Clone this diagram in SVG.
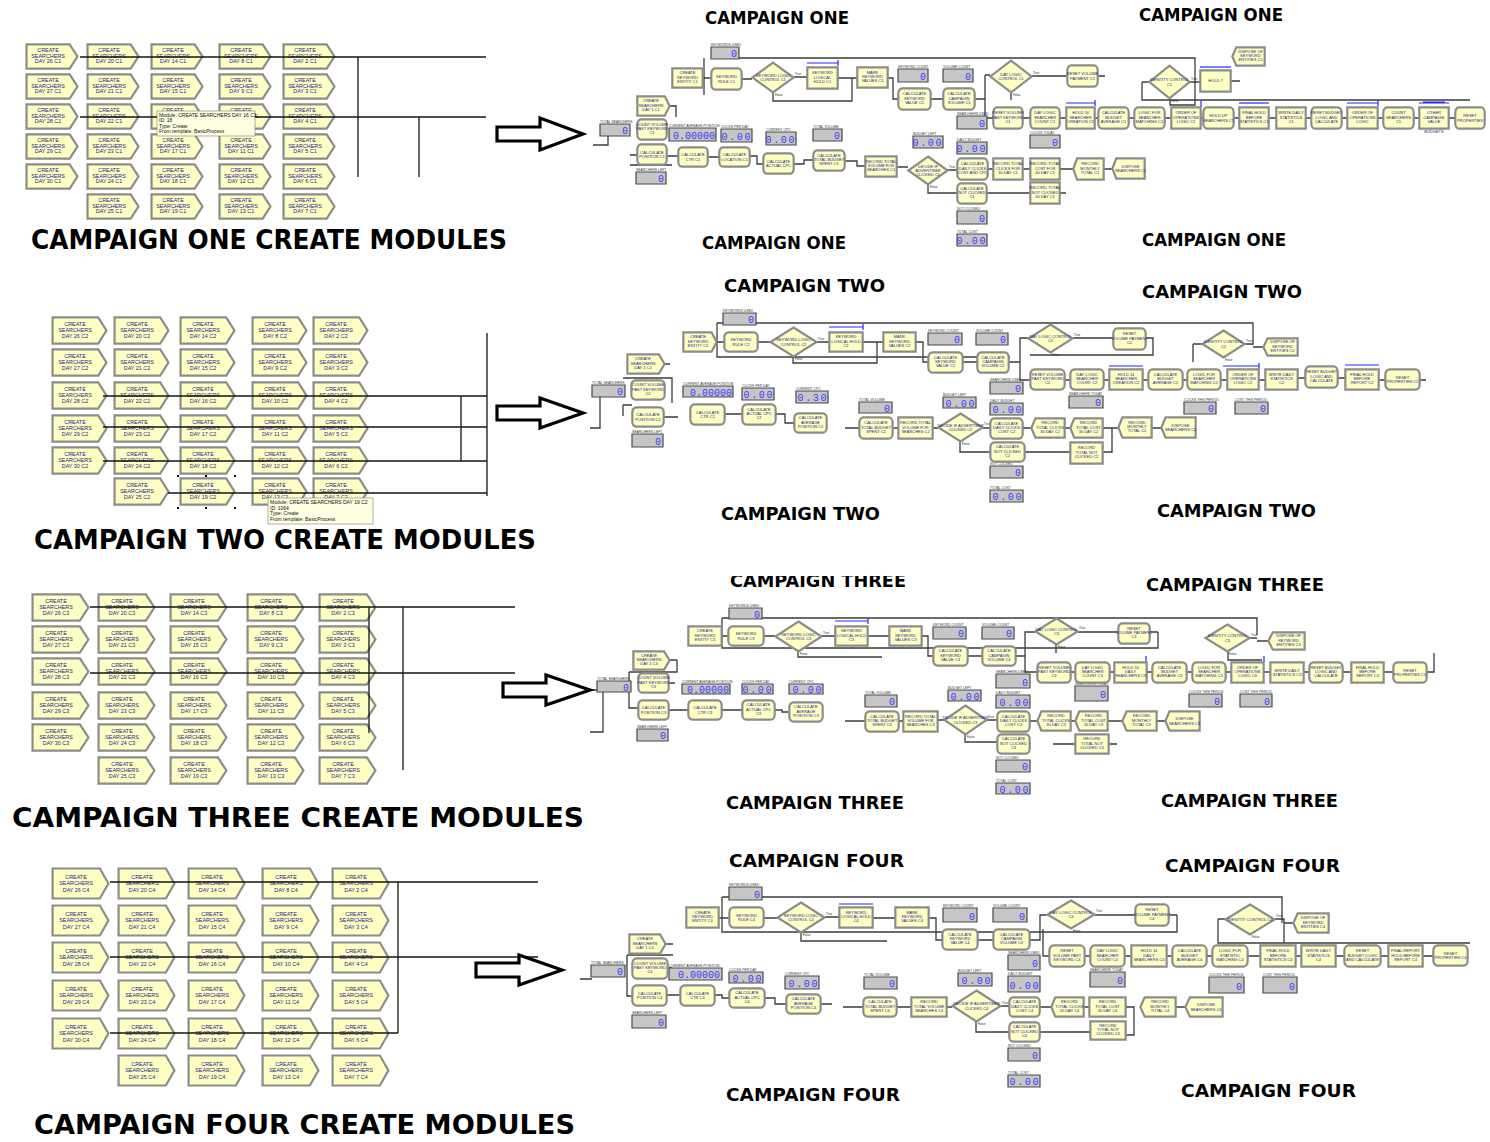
<svg xmlns="http://www.w3.org/2000/svg" width="1490" height="1142" viewBox="0 0 1490 1142">
<defs>
<style>
.bx{fill:#ffffc4;stroke:#8c8c8c;stroke-width:2.2;vector-effect:non-scaling-stroke}
.bn{fill:#c6c6c6;stroke:#4a4a4a;stroke-width:1.2;vector-effect:non-scaling-stroke}
.t{font-family:"Liberation Sans",Arial,sans-serif;font-size:4px;fill:#22228c;text-anchor:middle}
.ct{font-family:"Liberation Sans",Arial,sans-serif;font-size:5.4px;fill:#22228c;text-anchor:middle}
.lb{font-family:"Liberation Sans",Arial,sans-serif;font-size:3.4px;fill:#333}
.v{font-family:"Liberation Mono","Courier New",monospace;font-size:10px;fill:#3c3cff;text-anchor:end}
.vs{letter-spacing:1.6px}
.tf{font-family:"Liberation Sans",Arial,sans-serif;font-size:3px;fill:#222}
.hd{font-family:"DejaVu Sans",Verdana,sans-serif;font-weight:bold;fill:#000}
.cn{fill:none;stroke:#3c3c3c;stroke-width:1.3}
.gl{fill:none;stroke:#151515;stroke-width:1.3}
.q{fill:none;stroke:#2626ff;stroke-width:1.2}
.arw{fill:#fff;stroke:#000;stroke-width:3.2;stroke-linejoin:miter}
.tip{fill:#ffffe1;stroke:#7a7a7a;stroke-width:0.6}
.tt{font-family:"Liberation Sans",Arial,sans-serif;font-size:5px;fill:#111}
.hdl{fill:#111}
</style>
<symbol id="sC" viewBox="0 0 100 60" preserveAspectRatio="none" overflow="visible"><path class="bx" d="M1,1H84L99,30L84,59H1Z"/></symbol>
<symbol id="sP" viewBox="0 0 100 60" preserveAspectRatio="none" overflow="visible"><rect class="bx" x="1" y="1" width="98" height="58" rx="12" ry="14"/></symbol>
<symbol id="sA" viewBox="0 0 100 60" preserveAspectRatio="none" overflow="visible"><rect class="bx" x="1" y="1" width="98" height="58"/></symbol>
<symbol id="sR" viewBox="0 0 100 60" preserveAspectRatio="none" overflow="visible"><path class="bx" d="M13,1H99V59H13L1,30Z"/></symbol>
<symbol id="sD" viewBox="0 0 100 60" preserveAspectRatio="none" overflow="visible"><path class="bx" d="M50,1L99,30L50,59L1,30Z"/></symbol>
<symbol id="sN" viewBox="0 0 100 60" preserveAspectRatio="none" overflow="visible"><rect class="bn" x="0" y="0" width="100" height="60"/></symbol>
<clipPath id="clipTop3"><rect x="700" y="576" width="240" height="30"/></clipPath>
</defs>
<rect width="1490" height="1142" fill="#fff"/>

<!-- flowchart connectors -->
<g id="flow-connectors" class="cn">
<path d="M593,145H608V136 M630,155H637 M630,165H672 M667,156H678 M676,105V117 M670,106H676 M704,58V95 M703,78H711 M739,58H1195V105H1170V99 M742,79H752 M794,77H807 M838,78H857 M852,78V101H773V93 M888,78H893V99H898 M931,99H943 M975,99H985 M985,75V118H993 M985,75H990 M1032,76H1067 M1098,76H1105 M1011,93V100 M1142,82H1149 M1142,82V100H1470 M1190,82H1200 M1231,81H1240 M1023,118H1030 M1060,118H1066 M1095,118H1098 M1129,118H1134 M1165,118H1171 M1201,118H1203 M1234,118H1239 M1269,118H1276 M1306,118H1311 M1342,118H1347 M1378,118H1383 M1414,118H1419 M1449,118H1455 M708,157H719 M750,156H757V164H763 M794,164H804V160H813 M845,161H857V166H865 M897,167H908 M948,170H957 M988,169H993 M1023,169H1030 M1060,169H1073 M1104,169H1112 M928,185V193H957 M987,193H1030 M1060,193H1066"/>
<path d="M590,428H600V397 M623,378H672V403 M623,405V416 M623,405H632 M665,364H670 M664,417H678 M725,414H742 M776,414H785V423H794 M717,323H1253V345 M717,323V357H1010 M717,342H724 M758,342H770 M817,342H829 M863,342H877V363H793V357 M877,342H883 M916,342H923V362H928 M963,362H977 M1009,362H1020V338H1028 M1020,362V380H1030 M1073,338H1113 M1146,338H1153V355H1030 M1193,344H1202 M1193,344V362 M1245,344H1253 M1253,347H1263 M1065,380H1070 M1104,380H1109 M1143,380H1148 M1183,380H1187 M1221,380H1227 M1259,380H1265 M1298,378H1305 M1338,378H1345 M1379,380H1385 M1420,380H1426 M845,428H859 M893,428H898 M933,428H938 M983,428H990 M1023,428H1031 M1065,428H1070 M1103,428H1118 M1152,428H1161 M960,442V452H990 M1025,452H1070 M1103,452H1112V428"/>
<path d="M590,690H597 M603,692V732H590 M629,672H677V660 M670,660H677 M629,672V708H638 M669,683H675 M669,710H688 M722,710H742 M775,710H782V712H789 M845,721H865 M899,721H903 M938,720H944 M987,720H997 M965,735V742H997 M1030,721H1037 M1071,721H1075 M1108,721H1122 M1157,721H1165 M1053,744H1075 M1109,744H1117 M722,618H1257V635 M722,618V648H1158V632 M722,636H728 M764,636H775 M822,636H835 M868,636H889 M922,636H928V656H933 M968,656H982 M1016,656H1025V632H1035 M798,652V657H882 M1078,632H1118 M1150,632H1158 M1056,645V653 M1025,656V672H1037 M1250,638H1257 M1257,641H1268 M1228,652V660H1262 M1071,672H1075 M1110,672H1114 M1147,672H1152 M1187,672H1192 M1226,672H1231 M1264,672H1270 M1304,672H1309 M1343,672H1351 M1384,672H1393 M1427,672H1434V653"/>
<path d="M580,979H592 M627,955H673 M666,944H673 M627,955V996H632 M668,968H672 M667,995H680 M715,995H722V998H729 M765,998H775V1004H786 M821,1004H832 M843,1007H863 M897,1007H911 M947,1007H952 M1001,1006H1009 M976,1022V1032H1009 M1040,1007H1051 M1084,1007H1089 M1126,1007H1134V1035H1126 M1176,1007H1185 M1040,1032H1090 M722,897H1282V923 M722,897V932H1177V915 M719,918H729 M764,918H777 M825,917H839 M873,918H895 M929,918H936V940H942 M978,940H993 M1030,940H1040V915H1047 M801,933V941H887 M1095,915H1135 M1169,915H1177 M1043,929V956H1049 M1218,919H1225 M1218,919V943H1470 M1275,919H1284V943 M1284,923H1293 M1085,956H1090 M1125,956H1131 M1167,956H1172 M1207,956H1212 M1248,956H1260 M1296,956H1301 M1336,956H1344 M1381,956H1388 M1423,956H1433"/>
</g>

<!-- campaign one flowchart -->
<g id="f1-k1" transform="translate(600,124)"><text class="lb" y="-1.5">TOTAL SEARCHERS</text><use href="#sN" width="30" height="12"/><text class="v" x="28" y="10">0</text></g>
<g id="f1-k2" transform="translate(636,172)"><text class="lb" y="-1.5">SEARCHERS LEFT</text><use href="#sN" width="30" height="12"/><text class="v" x="28" y="10">0</text></g>
<g id="f1-k3" transform="translate(711,47)"><text class="lb" y="-1.5">KEYWORDS USED</text><use href="#sN" width="28" height="12"/><text class="v" x="26" y="10">0</text></g>
<g id="f1-k4" transform="translate(669,128)"><text class="lb" y="-1.5">CURRENT AVERAGE POSITION</text><use href="#sN" width="47" height="13"/><text class="v" x="46" y="11">0.00000</text></g>
<g id="f1-k5" transform="translate(721,129)"><text class="lb" y="-1.5">CLICKS PER DAY</text><use href="#sN" width="31" height="13"/><text class="v vs" x="31" y="11">0.00</text></g>
<g id="f1-k6" transform="translate(766,132)"><text class="lb" y="-1.5">CURRENT CPC</text><use href="#sN" width="30" height="13"/><text class="v vs" x="30" y="11">0.00</text></g>
<g id="f1-k7" transform="translate(813,129)"><text class="lb" y="-1.5">TOTAL VOLUME</text><use href="#sN" width="29" height="12"/><text class="v" x="27" y="10">0</text></g>
<g id="f1-k8" transform="translate(913,136)"><text class="lb" y="-1.5">BUDGET LEFT</text><use href="#sN" width="30" height="12"/><text class="v vs" x="30" y="10">0.00</text></g>
<g id="f1-k9" transform="translate(898,69)"><text class="lb" y="-1.5">KEYWORD COUNT</text><use href="#sN" width="30" height="13"/><text class="v" x="28" y="11">0</text></g>
<g id="f1-k10" transform="translate(943,69)"><text class="lb" y="-1.5">VOLUME COUNT</text><use href="#sN" width="30" height="13"/><text class="v" x="28" y="11">0</text></g>
<g id="f1-k11" transform="translate(957,116)"><text class="lb" y="-1.5">SEARCHERS USED</text><use href="#sN" width="30" height="13"/><text class="v" x="28" y="11">0</text></g>
<g id="f1-k12" transform="translate(957,142)"><text class="lb" y="-1.5">DAILY BUDGET</text><use href="#sN" width="30" height="12"/><text class="v vs" x="30" y="10">0.00</text></g>
<g id="f1-k13" transform="translate(1030,135)"><text class="lb" y="-1.5">CLICKS TODAY</text><use href="#sN" width="30" height="13"/><text class="v" x="28" y="11">0</text></g>
<g id="f1-k14" transform="translate(957,211)"><text class="lb" y="-1.5">NOT CLICKED</text><use href="#sN" width="30" height="13"/><text class="v" x="28" y="11">0</text></g>
<g id="f1-k15" transform="translate(957,234)"><text class="lb" y="-1.5">TOTAL COST</text><use href="#sN" width="30" height="12"/><text class="v vs" x="30" y="10">0.00</text></g>

<g id="f1-m1" transform="translate(637,96)"><use href="#sC" width="33" height="20"/><text class="t" x="14" y="6.4">CREATE</text><text class="t" x="14" y="10.6">SEARCHERS</text><text class="t" x="14" y="14.8">DAY 1 C1</text></g>
<g id="f1-m2" transform="translate(637,119)"><use href="#sP" width="30" height="21"/><text class="t" x="15" y="6.9">COUNT VOLUME</text><text class="t" x="15" y="11.1">PAST KEYWORD</text><text class="t" x="15" y="15.3">C1</text></g>
<g id="f1-m3" transform="translate(637,144)"><use href="#sP" width="30" height="21"/><text class="t" x="15" y="9.8">CALCULATE</text><text class="t" x="15" y="14">POSITION C1</text></g>
<g id="f1-m4" transform="translate(672,68)"><use href="#sA" width="31" height="20"/><text class="t" x="15.5" y="6.4">CREATE</text><text class="t" x="15.5" y="10.6">KEYWORD</text><text class="t" x="15.5" y="14.8">ENTITY C1</text></g>
<g id="f1-m5" transform="translate(711,68)"><use href="#sP" width="31" height="22"/><text class="t" x="15.5" y="10.3">KEYWORD</text><text class="t" x="15.5" y="14.5">RULE C1</text></g>
<g id="f1-m6" transform="translate(752,62)"><use href="#sD" width="42" height="31"/><text class="t" x="21" y="14.8">KEYWORD LOGIC</text><text class="t" x="21" y="19">CONTROL C1</text><text class="tf" x="43" y="13">True</text><text class="tf" x="23" y="34">False</text></g>
<g id="f1-m7" transform="translate(807,67)"><path class="q" d="M0,-4H31M31,-7V-1"/><use href="#sA" width="31" height="22"/><text class="t" x="15.5" y="7.4">KEYWORD</text><text class="t" x="15.5" y="11.6">LOGICAL</text><text class="t" x="15.5" y="15.8">HOLD C1</text></g>
<g id="f1-m8" transform="translate(857,67)"><use href="#sA" width="31" height="21"/><text class="t" x="15.5" y="6.9">MARK</text><text class="t" x="15.5" y="11.1">KEYWORD</text><text class="t" x="15.5" y="15.3">VALUES C1</text></g>
<g id="f1-m9" transform="translate(898,88)"><use href="#sP" width="33" height="22"/><text class="t" x="16.5" y="7.4">CALCULATE</text><text class="t" x="16.5" y="11.6">KEYWORD</text><text class="t" x="16.5" y="15.8">VALUE C1</text></g>
<g id="f1-m10" transform="translate(943,88)"><use href="#sP" width="32" height="22"/><text class="t" x="16" y="7.4">CALCULATE</text><text class="t" x="16" y="11.6">CAMPAIGN</text><text class="t" x="16" y="15.8">VOLUME C1</text></g>
<g id="f1-m11" transform="translate(990,60)"><use href="#sD" width="42" height="33"/><text class="t" x="21" y="15.8">DAY LOGIC</text><text class="t" x="21" y="20">CONTROL C1</text><text class="tf" x="43" y="14">True</text><text class="tf" x="23" y="36">False</text></g>
<g id="f1-m12" transform="translate(1067,65)"><use href="#sP" width="31" height="22"/><text class="t" x="15.5" y="10.3">RESET VOLUME</text><text class="t" x="15.5" y="14.5">PAYMENT C1</text></g>
<g id="f1-m13" transform="translate(1149,65)"><use href="#sD" width="41" height="34"/><text class="t" x="20.5" y="16.3">IDENTITY CONTROL</text><text class="t" x="20.5" y="20.5">C1</text><text class="tf" x="42" y="15">True</text><text class="tf" x="22" y="37">False</text></g>
<g id="f1-m14" transform="translate(1200,70)"><path class="q" d="M0,-3H31"/><use href="#sA" width="31" height="22"/><text class="t" x="15.5" y="12.4">HOLD 7</text></g>
<g id="f1-m15" transform="translate(1232,47)"><use href="#sR" width="33" height="19"/><text class="t" x="18.5" y="5.9">DISPOSE OF</text><text class="t" x="18.5" y="10.1">KEYWORD</text><text class="t" x="18.5" y="14.3">ENTITIES C1</text></g>
<g id="f1-m16" transform="translate(993,107)"><use href="#sP" width="30" height="22"/><text class="t" x="15" y="7.4">RESET VOLUME</text><text class="t" x="15" y="11.6">PAST KEYWORD</text><text class="t" x="15" y="15.8">C1</text></g>
<g id="f1-m17" transform="translate(1030,107)"><use href="#sP" width="30" height="22"/><text class="t" x="15" y="7.4">DAY LOGIC</text><text class="t" x="15" y="11.6">SEARCHER</text><text class="t" x="15" y="15.8">COUNT C1</text></g>
<g id="f1-m18" transform="translate(1066,107)"><path class="q" d="M0,-4H29M29,-7V-1"/><use href="#sA" width="29" height="22"/><text class="t" x="14.5" y="7.4">HOLD 14</text><text class="t" x="14.5" y="11.6">SEARCHER</text><text class="t" x="14.5" y="15.8">CREATION C1</text></g>
<g id="f1-m19" transform="translate(1098,107)"><use href="#sP" width="31" height="22"/><text class="t" x="15.5" y="7.4">CALCULATE</text><text class="t" x="15.5" y="11.6">BUDGET</text><text class="t" x="15.5" y="15.8">AVERAGE C1</text></g>
<g id="f1-m20" transform="translate(1134,107)"><use href="#sP" width="31" height="22"/><text class="t" x="15.5" y="7.4">LOGIC FOR</text><text class="t" x="15.5" y="11.6">SEARCHER</text><text class="t" x="15.5" y="15.8">MATCHING C1</text></g>
<g id="f1-m21" transform="translate(1171,107)"><path class="q" d="M30,-6V0"/><use href="#sA" width="30" height="22"/><text class="t" x="15" y="7.4">ORDER OF</text><text class="t" x="15" y="11.6">OPERATIONS</text><text class="t" x="15" y="15.8">LOGIC C1</text></g>
<g id="f1-m22" transform="translate(1203,107)"><use href="#sP" width="31" height="22"/><text class="t" x="15.5" y="10.3">HOLD UP</text><text class="t" x="15.5" y="14.5">SEARCHERS C1</text></g>
<g id="f1-m23" transform="translate(1239,107)"><path class="q" d="M0,-4H30"/><use href="#sA" width="30" height="22"/><text class="t" x="15" y="7.4">FINAL HOLD</text><text class="t" x="15" y="11.6">BEFORE</text><text class="t" x="15" y="15.8">STATISTICS C1</text></g>
<g id="f1-m24" transform="translate(1276,107)"><use href="#sA" width="30" height="22"/><text class="t" x="15" y="7.4">WRITE DAILY</text><text class="t" x="15" y="11.6">STATISTICS</text><text class="t" x="15" y="15.8">C1</text></g>
<g id="f1-m25" transform="translate(1311,107)"><use href="#sP" width="31" height="22"/><text class="t" x="15.5" y="7.4">RESET BUDGET</text><text class="t" x="15.5" y="11.6">LOGIC AND</text><text class="t" x="15.5" y="15.8">CALCULATE</text></g>
<g id="f1-m26" transform="translate(1347,107)"><path class="q" d="M0,-4H31M31,-7V-1"/><use href="#sA" width="31" height="22"/><text class="t" x="15.5" y="7.4">ORDER OF</text><text class="t" x="15.5" y="11.6">OPERATIONS</text><text class="t" x="15.5" y="15.8">LOGIC</text></g>
<g id="f1-m27" transform="translate(1383,107)"><use href="#sP" width="31" height="22"/><text class="t" x="15.5" y="7.4">COUNT</text><text class="t" x="15.5" y="11.6">SEARCHERS</text><text class="t" x="15.5" y="15.8">C1</text></g>
<g id="f1-m28" transform="translate(1419,107)"><path class="q" d="M0,-4H30M4,-5H26"/><use href="#sA" width="30" height="22"/><text class="t" x="15" y="7.4">OTHER</text><text class="t" x="15" y="11.6">CAMPAIGN</text><text class="t" x="15" y="15.8">VALUE</text><text class="t" x="15" y="25.5">BUDGETS</text></g>
<g id="f1-m29" transform="translate(1455,107)"><use href="#sP" width="30" height="22"/><text class="t" x="15" y="10.3">RESET</text><text class="t" x="15" y="14.5">PROPERTIES</text></g>
<g id="f1-m30" transform="translate(678,147)"><use href="#sP" width="30" height="20"/><text class="t" x="15" y="9.3">CALCULATE</text><text class="t" x="15" y="13.5">CTR C1</text></g>
<g id="f1-m31" transform="translate(719,147)"><use href="#sP" width="31" height="20"/><text class="t" x="15.5" y="9.3">CALCULATE</text><text class="t" x="15.5" y="13.5">LOCATION C1</text></g>
<g id="f1-m32" transform="translate(763,153)"><use href="#sP" width="31" height="21"/><text class="t" x="15.5" y="9.8">CALCULATE</text><text class="t" x="15.5" y="14">ACTUAL CPC</text></g>
<g id="f1-m33" transform="translate(813,150)"><use href="#sP" width="32" height="21"/><text class="t" x="16" y="6.9">CALCULATE</text><text class="t" x="16" y="11.1">TOTAL BUDGET</text><text class="t" x="16" y="15.3">SPENT C1</text></g>
<g id="f1-m34" transform="translate(865,156)"><use href="#sA" width="32" height="21"/><text class="t" x="16" y="6.9">RECORD TOTAL</text><text class="t" x="16" y="11.1">VOLUME FOR</text><text class="t" x="16" y="15.3">SEARCHES C1</text></g>
<g id="f1-m35" transform="translate(908,156)"><use href="#sD" width="40" height="29"/><text class="t" x="20" y="11.7">DECIDE IF</text><text class="t" x="20" y="15.9">ADVERTISER</text><text class="t" x="20" y="20.1">CLICKED C1</text><text class="tf" x="41" y="12">True</text><text class="tf" x="22" y="32">False</text></g>
<g id="f1-m36" transform="translate(957,158)"><use href="#sP" width="31" height="22"/><text class="t" x="15.5" y="7.4">CALCULATE</text><text class="t" x="15.5" y="11.6">DAILY CLICKS</text><text class="t" x="15.5" y="15.8">COST AND CPC</text></g>
<g id="f1-m37" transform="translate(993,158)"><use href="#sA" width="30" height="22"/><text class="t" x="15" y="7.4">RECORD TOTAL</text><text class="t" x="15" y="11.6">CLICKS FOR</text><text class="t" x="15" y="15.8">30 DAY C1</text></g>
<g id="f1-m38" transform="translate(1030,158)"><use href="#sA" width="30" height="22"/><text class="t" x="15" y="7.4">RECORD TOTAL</text><text class="t" x="15" y="11.6">COST FOR</text><text class="t" x="15" y="15.8">30 DAY C1</text></g>
<g id="f1-m39" transform="translate(1073,158)"><use href="#sR" width="31" height="22"/><text class="t" x="17" y="7.4">RECORD</text><text class="t" x="17" y="11.6">MONTHLY</text><text class="t" x="17" y="15.8">TOTAL C1</text></g>
<g id="f1-m40" transform="translate(1112,158)"><use href="#sR" width="33" height="21"/><text class="t" x="18.5" y="9.8">DISPOSE</text><text class="t" x="18.5" y="14">SEARCHERS C1</text></g>
<g id="f1-m41" transform="translate(957,183)"><use href="#sP" width="30" height="21"/><text class="t" x="15" y="6.9">CALCULATE</text><text class="t" x="15" y="11.1">NOT CLICKED</text><text class="t" x="15" y="15.3">C1</text></g>
<g id="f1-m42" transform="translate(1030,182)"><use href="#sA" width="30" height="22"/><text class="t" x="15" y="7.4">RECORD TOTAL</text><text class="t" x="15" y="11.6">NOT CLICKED</text><text class="t" x="15" y="15.8">30 DAY C1</text></g>

<!-- campaign two flowchart -->
<g id="f2-k1" transform="translate(592,385)"><text class="lb" y="-1.5">TOTAL SEARCHERS</text><use href="#sN" width="33" height="12"/><text class="v" x="31" y="10">0</text></g>
<g id="f2-k2" transform="translate(632,434)"><text class="lb" y="-1.5">SEARCHERS LEFT</text><use href="#sN" width="31" height="13"/><text class="v" x="29" y="11">0</text></g>
<g id="f2-k3" transform="translate(723,313)"><text class="lb" y="-1.5">KEYWORDS USED</text><use href="#sN" width="33" height="12"/><text class="v" x="31" y="10">0</text></g>
<g id="f2-k4" transform="translate(683,386)"><text class="lb" y="-1.5">CURRENT AVERAGE POSITION</text><use href="#sN" width="50" height="11"/><text class="v" x="49" y="9.5">0.00000</text></g>
<g id="f2-k5" transform="translate(742,388)"><text class="lb" y="-1.5">CLICKS PER DAY</text><use href="#sN" width="32" height="12"/><text class="v vs" x="32" y="10">0.00</text></g>
<g id="f2-k6" transform="translate(796,391)"><text class="lb" y="-1.5">CURRENT CPC</text><use href="#sN" width="32" height="12"/><text class="v vs" x="32" y="10">0.30</text></g>
<g id="f2-k7" transform="translate(859,402)"><text class="lb" y="-1.5">TOTAL VOLUME</text><use href="#sN" width="33" height="11"/><text class="v" x="31" y="9.5">0</text></g>
<g id="f2-k8" transform="translate(943,397)"><text class="lb" y="-1.5">BUDGET LEFT</text><use href="#sN" width="33" height="11"/><text class="v vs" x="33" y="9.5">0.00</text></g>
<g id="f2-k9" transform="translate(928,333)"><text class="lb" y="-1.5">KEYWORD COUNT</text><use href="#sN" width="34" height="12"/><text class="v" x="32" y="10">0</text></g>
<g id="f2-k10" transform="translate(976,333)"><text class="lb" y="-1.5">VOLUME COUNT</text><use href="#sN" width="32" height="12"/><text class="v" x="30" y="10">0</text></g>
<g id="f2-k11" transform="translate(990,382)"><text class="lb" y="-1.5">SEARCHERS USED</text><use href="#sN" width="33" height="12"/><text class="v" x="31" y="10">0</text></g>
<g id="f2-k12" transform="translate(990,403)"><text class="lb" y="-1.5">DAILY BUDGET</text><use href="#sN" width="33" height="12"/><text class="v vs" x="33" y="10">0.00</text></g>
<g id="f2-k13" transform="translate(1069,396)"><text class="lb" y="-1.5">SEARCHERS TODAY</text><use href="#sN" width="34" height="12"/><text class="v" x="32" y="10">0</text></g>
<g id="f2-k14" transform="translate(1184,402)"><text class="lb" y="-1.5">CLICKS THIS PERIOD</text><use href="#sN" width="32" height="12"/><text class="v" x="30" y="10">0</text></g>
<g id="f2-k15" transform="translate(1235,402)"><text class="lb" y="-1.5">COST THIS PERIOD</text><use href="#sN" width="33" height="12"/><text class="v" x="31" y="10">0</text></g>
<g id="f2-k16" transform="translate(990,466)"><text class="lb" y="-1.5">NOT CLICKED</text><use href="#sN" width="33" height="12"/><text class="v" x="31" y="10">0</text></g>
<g id="f2-k17" transform="translate(990,490)"><text class="lb" y="-1.5">TOTAL COST</text><use href="#sN" width="33" height="12"/><text class="v vs" x="33" y="10">0.00</text></g>

<g id="f2-m1" transform="translate(627,354)"><use href="#sC" width="38" height="20"/><text class="t" x="16" y="6.4">CREATE</text><text class="t" x="16" y="10.6">SEARCHERS</text><text class="t" x="16" y="14.8">DAY 1 C2</text></g>
<g id="f2-m2" transform="translate(631,380)"><use href="#sP" width="34" height="20"/><text class="t" x="17" y="6.4">COUNT VOLUME</text><text class="t" x="17" y="10.6">PAST KEYWORD</text><text class="t" x="17" y="14.8">C2</text></g>
<g id="f2-m3" transform="translate(632,407)"><use href="#sP" width="32" height="20"/><text class="t" x="16" y="9.3">CALCULATE</text><text class="t" x="16" y="13.5">POSITION C2</text></g>
<g id="f2-m4" transform="translate(683,332)"><use href="#sC" width="34" height="20"/><text class="t" x="15" y="6.4">CREATE</text><text class="t" x="15" y="10.6">KEYWORD</text><text class="t" x="15" y="14.8">ENTITY C2</text></g>
<g id="f2-m5" transform="translate(724,332)"><use href="#sP" width="34" height="20"/><text class="t" x="17" y="9.3">KEYWORD</text><text class="t" x="17" y="13.5">RULE C2</text></g>
<g id="f2-m6" transform="translate(770,327)"><use href="#sD" width="47" height="30"/><text class="t" x="23.5" y="14.3">KEYWORD LOGIC</text><text class="t" x="23.5" y="18.5">CONTROL C2</text><text class="tf" x="48" y="13">True</text><text class="tf" x="25" y="33">False</text></g>
<g id="f2-m7" transform="translate(829,332)"><path class="q" d="M0,-5H34M34,-8V-2"/><use href="#sA" width="34" height="20"/><text class="t" x="17" y="6.4">KEYWORD</text><text class="t" x="17" y="10.6">LOGICAL HOLD</text><text class="t" x="17" y="14.8">C2</text></g>
<g id="f2-m8" transform="translate(883,332)"><use href="#sA" width="33" height="20"/><text class="t" x="16.5" y="6.4">MARK</text><text class="t" x="16.5" y="10.6">KEYWORD</text><text class="t" x="16.5" y="14.8">VALUES C2</text></g>
<g id="f2-m9" transform="translate(928,352)"><use href="#sP" width="35" height="21"/><text class="t" x="17.5" y="6.9">CALCULATE</text><text class="t" x="17.5" y="11.1">KEYWORD</text><text class="t" x="17.5" y="15.3">VALUE C2</text></g>
<g id="f2-m10" transform="translate(977,352)"><use href="#sP" width="32" height="21"/><text class="t" x="16" y="6.9">CALCULATE</text><text class="t" x="16" y="11.1">CAMPAIGN</text><text class="t" x="16" y="15.3">VOLUME C2</text></g>
<g id="f2-m11" transform="translate(1028,324)"><use href="#sD" width="45" height="29"/><text class="t" x="22.5" y="13.8">DAY LOGIC CONTROL</text><text class="t" x="22.5" y="18">C2</text><text class="tf" x="46" y="12">True</text><text class="tf" x="24" y="32">False</text></g>
<g id="f2-m12" transform="translate(1113,328)"><use href="#sP" width="33" height="22"/><text class="t" x="16.5" y="7.4">RESET</text><text class="t" x="16.5" y="11.6">VOLUME PAYMENT</text><text class="t" x="16.5" y="15.8">C2</text></g>
<g id="f2-m13" transform="translate(1202,330)"><use href="#sD" width="43" height="28"/><text class="t" x="21.5" y="13.3">IDENTITY CONTROL</text><text class="t" x="21.5" y="17.5">C2</text><text class="tf" x="44" y="12">True</text><text class="tf" x="23" y="31">False</text></g>
<g id="f2-m14" transform="translate(1263,338)"><use href="#sR" width="35" height="18"/><text class="t" x="19.5" y="5.4">DISPOSE OF</text><text class="t" x="19.5" y="9.6">KEYWORD</text><text class="t" x="19.5" y="13.8">ENTITIES C2</text></g>
<g id="f2-m15" transform="translate(1030,369)"><use href="#sP" width="35" height="21"/><text class="t" x="17.5" y="6.9">RESET VOLUME</text><text class="t" x="17.5" y="11.1">PAST KEYWORD</text><text class="t" x="17.5" y="15.3">C2</text></g>
<g id="f2-m16" transform="translate(1070,369)"><use href="#sP" width="34" height="21"/><text class="t" x="17" y="6.9">DAY LOGIC</text><text class="t" x="17" y="11.1">SEARCHER</text><text class="t" x="17" y="15.3">COUNT C2</text></g>
<g id="f2-m17" transform="translate(1109,369)"><path class="q" d="M0,-3H34"/><use href="#sA" width="34" height="21"/><text class="t" x="17" y="6.9">HOLD 14</text><text class="t" x="17" y="11.1">SEARCHER</text><text class="t" x="17" y="15.3">CREATION C2</text></g>
<g id="f2-m18" transform="translate(1148,369)"><use href="#sP" width="35" height="21"/><text class="t" x="17.5" y="6.9">CALCULATE</text><text class="t" x="17.5" y="11.1">BUDGET</text><text class="t" x="17.5" y="15.3">AVERAGE C2</text></g>
<g id="f2-m19" transform="translate(1187,369)"><use href="#sP" width="34" height="21"/><text class="t" x="17" y="6.9">LOGIC FOR</text><text class="t" x="17" y="11.1">SEARCHER</text><text class="t" x="17" y="15.3">MATCHING C2</text></g>
<g id="f2-m20" transform="translate(1227,369)"><path class="q" d="M-4,-3H32M32,-6V0"/><use href="#sA" width="32" height="21"/><text class="t" x="16" y="6.9">ORDER OF</text><text class="t" x="16" y="11.1">OPERATIONS</text><text class="t" x="16" y="15.3">LOGIC C2</text></g>
<g id="f2-m21" transform="translate(1265,369)"><use href="#sA" width="33" height="21"/><text class="t" x="16.5" y="6.9">WRITE DAILY</text><text class="t" x="16.5" y="11.1">STATISTICS</text><text class="t" x="16.5" y="15.3">C2</text></g>
<g id="f2-m22" transform="translate(1305,366)"><use href="#sP" width="33" height="22"/><text class="t" x="16.5" y="7.4">RESET BUDGET</text><text class="t" x="16.5" y="11.6">LOGIC AND</text><text class="t" x="16.5" y="15.8">CALCULATE</text></g>
<g id="f2-m23" transform="translate(1345,369)"><path class="q" d="M0,-4H34"/><use href="#sA" width="34" height="21"/><text class="t" x="17" y="6.9">FINAL HOLD</text><text class="t" x="17" y="11.1">BEFORE</text><text class="t" x="17" y="15.3">REPORT C2</text></g>
<g id="f2-m24" transform="translate(1385,369)"><use href="#sP" width="35" height="21"/><text class="t" x="17.5" y="9.8">RESET</text><text class="t" x="17.5" y="14">PROPERTIES C2</text></g>
<g id="f2-m25" transform="translate(690,404)"><use href="#sP" width="35" height="21"/><text class="t" x="17.5" y="9.8">CALCULATE</text><text class="t" x="17.5" y="14">CTR C2</text></g>
<g id="f2-m26" transform="translate(742,404)"><use href="#sP" width="34" height="21"/><text class="t" x="17" y="6.9">CALCULATE</text><text class="t" x="17" y="11.1">ACTUAL CPC</text><text class="t" x="17" y="15.3">C2</text></g>
<g id="f2-m27" transform="translate(794,413)"><use href="#sP" width="33" height="20"/><text class="t" x="16.5" y="6.4">CALCULATE</text><text class="t" x="16.5" y="10.6">AVERAGE</text><text class="t" x="16.5" y="14.8">POSITION C2</text></g>
<g id="f2-m28" transform="translate(859,417)"><use href="#sP" width="34" height="22"/><text class="t" x="17" y="7.4">CALCULATE</text><text class="t" x="17" y="11.6">TOTAL BUDGET</text><text class="t" x="17" y="15.8">SPENT C2</text></g>
<g id="f2-m29" transform="translate(898,417)"><use href="#sA" width="35" height="22"/><text class="t" x="17.5" y="7.4">RECORD TOTAL</text><text class="t" x="17.5" y="11.6">VOLUME FOR</text><text class="t" x="17.5" y="15.8">SEARCHES C2</text></g>
<g id="f2-m30" transform="translate(938,413)"><use href="#sD" width="45" height="29"/><text class="t" x="22.5" y="13.8">DECIDE IF ADVERTISER</text><text class="t" x="22.5" y="18">CLICKED C2</text><text class="tf" x="46" y="12">True</text><text class="tf" x="24" y="32">False</text></g>
<g id="f2-m31" transform="translate(990,418)"><use href="#sP" width="33" height="21"/><text class="t" x="16.5" y="6.9">CALCULATE</text><text class="t" x="16.5" y="11.1">DAILY CLICKS</text><text class="t" x="16.5" y="15.3">COST C2</text></g>
<g id="f2-m32" transform="translate(1031,418)"><use href="#sR" width="34" height="20"/><text class="t" x="19" y="6.4">RECORD</text><text class="t" x="19" y="10.6">TOTAL CLICKS</text><text class="t" x="19" y="14.8">30 DAY C2</text></g>
<g id="f2-m33" transform="translate(1070,418)"><use href="#sR" width="33" height="20"/><text class="t" x="18.5" y="6.4">RECORD</text><text class="t" x="18.5" y="10.6">TOTAL COST</text><text class="t" x="18.5" y="14.8">30 DAY C2</text></g>
<g id="f2-m34" transform="translate(1118,417)"><use href="#sR" width="34" height="21"/><text class="t" x="19" y="6.9">RECORD</text><text class="t" x="19" y="11.1">MONTHLY</text><text class="t" x="19" y="15.3">TOTAL C2</text></g>
<g id="f2-m35" transform="translate(1161,417)"><use href="#sR" width="35" height="21"/><text class="t" x="19.5" y="9.8">DISPOSE</text><text class="t" x="19.5" y="14">SEARCHERS C2</text></g>
<g id="f2-m36" transform="translate(990,442)"><use href="#sP" width="35" height="20"/><text class="t" x="17.5" y="6.4">CALCULATE</text><text class="t" x="17.5" y="10.6">NOT CLICKED</text><text class="t" x="17.5" y="14.8">C2</text></g>
<g id="f2-m37" transform="translate(1070,442)"><use href="#sA" width="33" height="22"/><text class="t" x="16.5" y="7.4">RECORD</text><text class="t" x="16.5" y="11.6">TOTAL NOT</text><text class="t" x="16.5" y="15.8">CLICKED C2</text></g>

<!-- campaign three flowchart -->
<g id="f3-k1" transform="translate(597,681)"><text class="lb" y="-1.5">TOTAL SEARCHERS</text><use href="#sN" width="34" height="11"/><text class="v" x="32" y="9.5">0</text></g>
<g id="f3-k2" transform="translate(637,729)"><text class="lb" y="-1.5">SEARCHERS LEFT</text><use href="#sN" width="31" height="12"/><text class="v" x="29" y="10">0</text></g>
<g id="f3-k3" transform="translate(729,608)"><text class="lb" y="-1.5">KEYWORDS USED</text><use href="#sN" width="33" height="11"/><text class="v" x="31" y="9.5">0</text></g>
<g id="f3-k4" transform="translate(682,684)"><text class="lb" y="-1.5">CURRENT AVERAGE POSITION</text><use href="#sN" width="48" height="10"/><text class="v" x="47" y="9">0.00000</text></g>
<g id="f3-k5" transform="translate(742,684)"><text class="lb" y="-1.5">CLICKS PER DAY</text><use href="#sN" width="31" height="10"/><text class="v vs" x="31" y="9">0.00</text></g>
<g id="f3-k6" transform="translate(789,684)"><text class="lb" y="-1.5">CURRENT CPC</text><use href="#sN" width="34" height="10"/><text class="v vs" x="34" y="9">0.00</text></g>
<g id="f3-k7" transform="translate(865,695)"><text class="lb" y="-1.5">TOTAL VOLUME</text><use href="#sN" width="32" height="12"/><text class="v" x="30" y="10">0</text></g>
<g id="f3-k8" transform="translate(948,690)"><text class="lb" y="-1.5">BUDGET LEFT</text><use href="#sN" width="33" height="11"/><text class="v vs" x="33" y="9.5">0.00</text></g>
<g id="f3-k9" transform="translate(933,627)"><text class="lb" y="-1.5">KEYWORD COUNT</text><use href="#sN" width="33" height="12"/><text class="v" x="31" y="10">0</text></g>
<g id="f3-k10" transform="translate(982,627)"><text class="lb" y="-1.5">VOLUME COUNT</text><use href="#sN" width="32" height="12"/><text class="v" x="30" y="10">0</text></g>
<g id="f3-k11" transform="translate(996,674)"><text class="lb" y="-1.5">SEARCHERS USED</text><use href="#sN" width="34" height="14"/><text class="v" x="32" y="11.5">0</text></g>
<g id="f3-k12" transform="translate(996,695)"><text class="lb" y="-1.5">DAILY BUDGET</text><use href="#sN" width="34" height="13"/><text class="v vs" x="34" y="11">0.00</text></g>
<g id="f3-k13" transform="translate(996,760)"><text class="lb" y="-1.5">NOT CLICKED</text><use href="#sN" width="34" height="12"/><text class="v" x="32" y="10">0</text></g>
<g id="f3-k14" transform="translate(996,783)"><text class="lb" y="-1.5">TOTAL COST</text><use href="#sN" width="34" height="11"/><text class="v vs" x="34" y="9.5">0.00</text></g>
<g id="f3-k15" transform="translate(1075,686)"><text class="lb" y="-1.5">SEARCHERS TODAY</text><use href="#sN" width="33" height="15"/><text class="v" x="31" y="12">0</text></g>
<g id="f3-k16" transform="translate(1189,694)"><text class="lb" y="-1.5">CLICKS THIS PERIOD</text><use href="#sN" width="33" height="13"/><text class="v" x="31" y="11">0</text></g>
<g id="f3-k17" transform="translate(1240,694)"><text class="lb" y="-1.5">COST THIS PERIOD</text><use href="#sN" width="32" height="13"/><text class="v" x="30" y="11">0</text></g>

<g id="f3-m1" transform="translate(633,651)"><use href="#sC" width="37" height="19"/><text class="t" x="16" y="5.9">CREATE</text><text class="t" x="16" y="10.1">SEARCHERS</text><text class="t" x="16" y="14.3">DAY 1 C3</text></g>
<g id="f3-m2" transform="translate(638,673)"><use href="#sP" width="31" height="20"/><text class="t" x="15.5" y="6.4">COUNT VOLUME</text><text class="t" x="15.5" y="10.6">PAST KEYWORD</text><text class="t" x="15.5" y="14.8">C3</text></g>
<g id="f3-m3" transform="translate(638,700)"><use href="#sP" width="31" height="20"/><text class="t" x="15.5" y="9.3">CALCULATE</text><text class="t" x="15.5" y="13.5">POSITION C3</text></g>
<g id="f3-m4" transform="translate(688,626)"><use href="#sA" width="34" height="20"/><text class="t" x="17" y="6.4">CREATE</text><text class="t" x="17" y="10.6">KEYWORD</text><text class="t" x="17" y="14.8">ENTITY C3</text></g>
<g id="f3-m5" transform="translate(728,626)"><use href="#sP" width="36" height="20"/><text class="t" x="18" y="9.3">KEYWORD</text><text class="t" x="18" y="13.5">RULE C3</text></g>
<g id="f3-m6" transform="translate(775,621)"><use href="#sD" width="47" height="31"/><text class="t" x="23.5" y="14.8">KEYWORD LOGIC</text><text class="t" x="23.5" y="19">CONTROL C3</text><text class="tf" x="48" y="13">True</text><text class="tf" x="25" y="34">False</text></g>
<g id="f3-m7" transform="translate(835,626)"><path class="q" d="M0,-5H33M33,-8V-2"/><use href="#sA" width="33" height="20"/><text class="t" x="16.5" y="6.4">KEYWORD</text><text class="t" x="16.5" y="10.6">LOGICAL HOLD</text><text class="t" x="16.5" y="14.8">C3</text></g>
<g id="f3-m8" transform="translate(889,626)"><use href="#sA" width="33" height="20"/><text class="t" x="16.5" y="6.4">MARK</text><text class="t" x="16.5" y="10.6">KEYWORD</text><text class="t" x="16.5" y="14.8">VALUES C3</text></g>
<g id="f3-m9" transform="translate(933,646)"><use href="#sP" width="35" height="20"/><text class="t" x="17.5" y="6.4">CALCULATE</text><text class="t" x="17.5" y="10.6">KEYWORD</text><text class="t" x="17.5" y="14.8">VALUE C3</text></g>
<g id="f3-m10" transform="translate(982,646)"><use href="#sP" width="34" height="20"/><text class="t" x="17" y="6.4">CALCULATE</text><text class="t" x="17" y="10.6">CAMPAIGN</text><text class="t" x="17" y="14.8">VOLUME C3</text></g>
<g id="f3-m11" transform="translate(1035,618)"><use href="#sD" width="43" height="27"/><text class="t" x="21.5" y="12.8">DAY LOGIC CONTROL</text><text class="t" x="21.5" y="17">C3</text><text class="tf" x="44" y="11">True</text><text class="tf" x="23" y="30">False</text></g>
<g id="f3-m12" transform="translate(1118,623)"><use href="#sP" width="32" height="21"/><text class="t" x="16" y="6.9">RESET</text><text class="t" x="16" y="11.1">VOLUME PAYMENT</text><text class="t" x="16" y="15.3">C3</text></g>
<g id="f3-m13" transform="translate(1205,624)"><use href="#sD" width="45" height="28"/><text class="t" x="22.5" y="13.3">IDENTITY CONTROL</text><text class="t" x="22.5" y="17.5">C3</text><text class="tf" x="46" y="12">True</text><text class="tf" x="24" y="31">False</text></g>
<g id="f3-m14" transform="translate(1268,632)"><use href="#sR" width="37" height="18"/><text class="t" x="20.5" y="5.4">DISPOSE OF</text><text class="t" x="20.5" y="9.6">KEYWORD</text><text class="t" x="20.5" y="13.8">ENTITIES C3</text></g>
<g id="f3-m15" transform="translate(1037,662)"><use href="#sP" width="34" height="21"/><text class="t" x="17" y="6.9">RESET VOLUME</text><text class="t" x="17" y="11.1">PAST KEYWORD</text><text class="t" x="17" y="15.3">C3</text></g>
<g id="f3-m16" transform="translate(1075,662)"><use href="#sP" width="35" height="21"/><text class="t" x="17.5" y="6.9">DAY LOGIC</text><text class="t" x="17.5" y="11.1">SEARCHER</text><text class="t" x="17.5" y="15.3">COUNT C3</text></g>
<g id="f3-m17" transform="translate(1114,662)"><path class="q" d="M32,-6V0"/><use href="#sA" width="33" height="21"/><text class="t" x="16.5" y="6.9">HOLD 14</text><text class="t" x="16.5" y="11.1">DAILY</text><text class="t" x="16.5" y="15.3">SEARCHERS C3</text></g>
<g id="f3-m18" transform="translate(1152,662)"><use href="#sP" width="35" height="21"/><text class="t" x="17.5" y="6.9">CALCULATE</text><text class="t" x="17.5" y="11.1">BUDGET</text><text class="t" x="17.5" y="15.3">AVERAGE C3</text></g>
<g id="f3-m19" transform="translate(1192,662)"><use href="#sP" width="34" height="21"/><text class="t" x="17" y="6.9">LOGIC FOR</text><text class="t" x="17" y="11.1">SEARCHER</text><text class="t" x="17" y="15.3">MATCHING C3</text></g>
<g id="f3-m20" transform="translate(1231,662)"><path class="q" d="M33,-6V0"/><use href="#sA" width="33" height="21"/><text class="t" x="16.5" y="6.9">ORDER OF</text><text class="t" x="16.5" y="11.1">OPERATIONS</text><text class="t" x="16.5" y="15.3">LOGIC C3</text></g>
<g id="f3-m21" transform="translate(1270,662)"><use href="#sA" width="34" height="21"/><text class="t" x="17" y="9.8">WRITE DAILY</text><text class="t" x="17" y="14">STATISTICS C3</text></g>
<g id="f3-m22" transform="translate(1309,662)"><use href="#sP" width="34" height="21"/><text class="t" x="17" y="6.9">RESET BUDGET</text><text class="t" x="17" y="11.1">LOGIC AND</text><text class="t" x="17" y="15.3">CALCULATE</text></g>
<g id="f3-m23" transform="translate(1351,662)"><use href="#sA" width="33" height="21"/><text class="t" x="16.5" y="6.9">FINAL HOLD</text><text class="t" x="16.5" y="11.1">BEFORE</text><text class="t" x="16.5" y="15.3">REPORT C3</text></g>
<g id="f3-m24" transform="translate(1393,662)"><use href="#sP" width="34" height="21"/><text class="t" x="17" y="9.8">RESET</text><text class="t" x="17" y="14">PROPERTIES C3</text></g>
<g id="f3-m25" transform="translate(688,700)"><use href="#sP" width="34" height="20"/><text class="t" x="17" y="9.3">CALCULATE</text><text class="t" x="17" y="13.5">CTR C3</text></g>
<g id="f3-m26" transform="translate(742,700)"><use href="#sP" width="33" height="20"/><text class="t" x="16.5" y="6.4">CALCULATE</text><text class="t" x="16.5" y="10.6">ACTUAL CPC</text><text class="t" x="16.5" y="14.8">C3</text></g>
<g id="f3-m27" transform="translate(789,702)"><use href="#sP" width="34" height="20"/><text class="t" x="17" y="6.4">CALCULATE</text><text class="t" x="17" y="10.6">AVERAGE</text><text class="t" x="17" y="14.8">POSITION C3</text></g>
<g id="f3-m28" transform="translate(865,711)"><use href="#sP" width="34" height="21"/><text class="t" x="17" y="6.9">CALCULATE</text><text class="t" x="17" y="11.1">TOTAL BUDGET</text><text class="t" x="17" y="15.3">SPENT C3</text></g>
<g id="f3-m29" transform="translate(903,711)"><use href="#sA" width="35" height="21"/><text class="t" x="17.5" y="6.9">RECORD TOTAL</text><text class="t" x="17.5" y="11.1">VOLUME FOR</text><text class="t" x="17.5" y="15.3">SEARCHES C3</text></g>
<g id="f3-m30" transform="translate(944,705)"><use href="#sD" width="43" height="30"/><text class="t" x="21.5" y="14.3">DECIDE IF ADVERTISER</text><text class="t" x="21.5" y="18.5">CLICKED C3</text><text class="tf" x="44" y="13">True</text><text class="tf" x="23" y="33">False</text></g>
<g id="f3-m31" transform="translate(997,711)"><use href="#sP" width="33" height="21"/><text class="t" x="16.5" y="6.9">CALCULATE</text><text class="t" x="16.5" y="11.1">DAILY CLICKS</text><text class="t" x="16.5" y="15.3">COST C3</text></g>
<g id="f3-m32" transform="translate(997,734)"><use href="#sP" width="33" height="20"/><text class="t" x="16.5" y="6.4">CALCULATE</text><text class="t" x="16.5" y="10.6">NOT CLICKED</text><text class="t" x="16.5" y="14.8">C3</text></g>
<g id="f3-m33" transform="translate(1037,711)"><use href="#sR" width="34" height="20"/><text class="t" x="19" y="6.4">RECORD</text><text class="t" x="19" y="10.6">TOTAL CLICKS</text><text class="t" x="19" y="14.8">30 DAY C3</text></g>
<g id="f3-m34" transform="translate(1075,711)"><use href="#sR" width="33" height="20"/><text class="t" x="18.5" y="6.4">RECORD</text><text class="t" x="18.5" y="10.6">TOTAL COST</text><text class="t" x="18.5" y="14.8">30 DAY C3</text></g>
<g id="f3-m35" transform="translate(1122,711)"><use href="#sR" width="35" height="20"/><text class="t" x="19.5" y="6.4">RECORD</text><text class="t" x="19.5" y="10.6">MONTHLY</text><text class="t" x="19.5" y="14.8">TOTAL C3</text></g>
<g id="f3-m36" transform="translate(1165,711)"><use href="#sR" width="35" height="20"/><text class="t" x="19.5" y="9.3">DISPOSE</text><text class="t" x="19.5" y="13.5">SEARCHERS C3</text></g>
<g id="f3-m37" transform="translate(1075,734)"><use href="#sA" width="34" height="20"/><text class="t" x="17" y="6.4">RECORD</text><text class="t" x="17" y="10.6">TOTAL NOT</text><text class="t" x="17" y="14.8">CLICKED C3</text></g>

<!-- campaign four flowchart -->
<g id="f4-k1" transform="translate(591,965)"><text class="lb" y="-1.5">TOTAL SEARCHERS</text><use href="#sN" width="34" height="12"/><text class="v" x="32" y="10">0</text></g>
<g id="f4-k2" transform="translate(632,1015)"><text class="lb" y="-1.5">SEARCHERS LEFT</text><use href="#sN" width="34" height="13"/><text class="v" x="32" y="11">0</text></g>
<g id="f4-k3" transform="translate(729,887)"><text class="lb" y="-1.5">KEYWORDS USED</text><use href="#sN" width="33" height="13"/><text class="v" x="31" y="11">0</text></g>
<g id="f4-k4" transform="translate(669,968)"><text class="lb" y="-1.5">CURRENT AVERAGE POSITION</text><use href="#sN" width="53" height="12"/><text class="v" x="51" y="10">0.00000</text></g>
<g id="f4-k5" transform="translate(729,972)"><text class="lb" y="-1.5">CLICKS PER DAY</text><use href="#sN" width="34" height="11"/><text class="v vs" x="34" y="9.5">0.00</text></g>
<g id="f4-k6" transform="translate(785,976)"><text class="lb" y="-1.5">CURRENT CPC</text><use href="#sN" width="34" height="13"/><text class="v vs" x="34" y="11">0.00</text></g>
<g id="f4-k7" transform="translate(864,977)"><text class="lb" y="-1.5">TOTAL VOLUME</text><use href="#sN" width="33" height="12"/><text class="v" x="31" y="10">0</text></g>
<g id="f4-k8" transform="translate(958,973)"><text class="lb" y="-1.5">BUDGET LEFT</text><use href="#sN" width="34" height="13"/><text class="v vs" x="34" y="11">0.00</text></g>
<g id="f4-k9" transform="translate(943,908)"><text class="lb" y="-1.5">KEYWORD COUNT</text><use href="#sN" width="34" height="14"/><text class="v" x="32" y="11.5">0</text></g>
<g id="f4-k10" transform="translate(993,908)"><text class="lb" y="-1.5">VOLUME COUNT</text><use href="#sN" width="34" height="14"/><text class="v" x="32" y="11.5">0</text></g>
<g id="f4-k11" transform="translate(1008,955)"><text class="lb" y="-1.5">SEARCHERS USED</text><use href="#sN" width="32" height="15"/><text class="v" x="30" y="12">0</text></g>
<g id="f4-k12" transform="translate(1008,976)"><text class="lb" y="-1.5">DAILY BUDGET</text><use href="#sN" width="32" height="16"/><text class="v vs" x="32" y="12.5">0.00</text></g>
<g id="f4-k13" transform="translate(1008,1048)"><text class="lb" y="-1.5">NOT CLICKED</text><use href="#sN" width="32" height="13"/><text class="v" x="30" y="11">0</text></g>
<g id="f4-k14" transform="translate(1008,1075)"><text class="lb" y="-1.5">TOTAL COST</text><use href="#sN" width="32" height="12"/><text class="v vs" x="32" y="10">0.00</text></g>
<g id="f4-k15" transform="translate(1090,972)"><text class="lb" y="-1.5">SEARCHERS TODAY</text><use href="#sN" width="35" height="15"/><text class="v" x="33" y="12">0</text></g>
<g id="f4-k16" transform="translate(1209,977)"><text class="lb" y="-1.5">CLICKS THIS PERIOD</text><use href="#sN" width="35" height="16"/><text class="v" x="33" y="12.5">0</text></g>
<g id="f4-k17" transform="translate(1263,977)"><text class="lb" y="-1.5">COST THIS PERIOD</text><use href="#sN" width="34" height="16"/><text class="v" x="32" y="12.5">0</text></g>

<g id="f4-m1" transform="translate(629,934)"><use href="#sC" width="37" height="20"/><text class="t" x="16" y="6.4">CREATE</text><text class="t" x="16" y="10.6">SEARCHERS</text><text class="t" x="16" y="14.8">DAY 1 C4</text></g>
<g id="f4-m2" transform="translate(632,958)"><use href="#sP" width="36" height="21"/><text class="t" x="18" y="6.9">COUNT VOLUME</text><text class="t" x="18" y="11.1">PAST KEYWORD</text><text class="t" x="18" y="15.3">C4</text></g>
<g id="f4-m3" transform="translate(632,985)"><use href="#sP" width="35" height="21"/><text class="t" x="17.5" y="9.8">CALCULATE</text><text class="t" x="17.5" y="14">POSITION C4</text></g>
<g id="f4-m4" transform="translate(686,907)"><use href="#sA" width="33" height="21"/><text class="t" x="16.5" y="6.9">CREATE</text><text class="t" x="16.5" y="11.1">KEYWORD</text><text class="t" x="16.5" y="15.3">ENTITY C4</text></g>
<g id="f4-m5" transform="translate(729,907)"><use href="#sP" width="35" height="21"/><text class="t" x="17.5" y="9.8">KEYWORD</text><text class="t" x="17.5" y="14">RULE C4</text></g>
<g id="f4-m6" transform="translate(777,902)"><use href="#sD" width="48" height="31"/><text class="t" x="24" y="14.8">KEYWORD LOGIC</text><text class="t" x="24" y="19">CONTROL C4</text><text class="tf" x="49" y="13">True</text><text class="tf" x="26" y="34">False</text></g>
<g id="f4-m7" transform="translate(839,907)"><path class="q" d="M0,-3H34"/><use href="#sA" width="34" height="21"/><text class="t" x="17" y="6.9">KEYWORD</text><text class="t" x="17" y="11.1">LOGICAL HOLD</text><text class="t" x="17" y="15.3">C4</text></g>
<g id="f4-m8" transform="translate(895,907)"><use href="#sA" width="34" height="21"/><text class="t" x="17" y="6.9">MARK</text><text class="t" x="17" y="11.1">KEYWORD</text><text class="t" x="17" y="15.3">VALUES C4</text></g>
<g id="f4-m9" transform="translate(942,929)"><use href="#sP" width="36" height="21"/><text class="t" x="18" y="6.9">CALCULATE</text><text class="t" x="18" y="11.1">KEYWORD</text><text class="t" x="18" y="15.3">VALUE C4</text></g>
<g id="f4-m10" transform="translate(993,929)"><use href="#sP" width="37" height="21"/><text class="t" x="18.5" y="6.9">CALCULATE</text><text class="t" x="18.5" y="11.1">CAMPAIGN</text><text class="t" x="18.5" y="15.3">VOLUME C4</text></g>
<g id="f4-m11" transform="translate(1047,900)"><use href="#sD" width="48" height="29"/><text class="t" x="24" y="13.8">DAY LOGIC CONTROL</text><text class="t" x="24" y="18">C4</text><text class="tf" x="49" y="12">True</text><text class="tf" x="26" y="32">False</text></g>
<g id="f4-m12" transform="translate(1135,904)"><use href="#sP" width="34" height="22"/><text class="t" x="17" y="7.4">RESET</text><text class="t" x="17" y="11.6">VOLUME PAYMENT</text><text class="t" x="17" y="15.8">C4</text></g>
<g id="f4-m13" transform="translate(1225,904)"><use href="#sD" width="50" height="31"/><text class="t" x="25" y="16.9">IDENTITY CONTROL C4</text><text class="tf" x="51" y="13">True</text><text class="tf" x="27" y="34">False</text></g>
<g id="f4-m14" transform="translate(1293,913)"><use href="#sR" width="36" height="20"/><text class="t" x="20" y="6.4">DISPOSE OF</text><text class="t" x="20" y="10.6">KEYWORD</text><text class="t" x="20" y="14.8">ENTITIES C4</text></g>
<g id="f4-m15" transform="translate(1049,945)"><use href="#sP" width="36" height="22"/><text class="t" x="18" y="7.4">RESET</text><text class="t" x="18" y="11.6">VOLUME PAST</text><text class="t" x="18" y="15.8">KEYWORD C4</text></g>
<g id="f4-m16" transform="translate(1090,945)"><use href="#sP" width="35" height="22"/><text class="t" x="17.5" y="7.4">DAY LOGIC</text><text class="t" x="17.5" y="11.6">SEARCHER</text><text class="t" x="17.5" y="15.8">COUNT C4</text></g>
<g id="f4-m17" transform="translate(1131,945)"><use href="#sA" width="36" height="22"/><text class="t" x="18" y="7.4">HOLD 14</text><text class="t" x="18" y="11.6">DAILY</text><text class="t" x="18" y="15.8">SEARCHERS C4</text></g>
<g id="f4-m18" transform="translate(1172,945)"><use href="#sP" width="35" height="22"/><text class="t" x="17.5" y="7.4">CALCULATE</text><text class="t" x="17.5" y="11.6">BUDGET</text><text class="t" x="17.5" y="15.8">AVERAGE C4</text></g>
<g id="f4-m19" transform="translate(1212,945)"><use href="#sP" width="36" height="22"/><text class="t" x="18" y="7.4">LOGIC FOR</text><text class="t" x="18" y="11.6">STATISTIC</text><text class="t" x="18" y="15.8">MATCHING C4</text></g>
<g id="f4-m20" transform="translate(1260,945)"><use href="#sA" width="36" height="22"/><text class="t" x="18" y="7.4">FINAL HOLD</text><text class="t" x="18" y="11.6">BEFORE</text><text class="t" x="18" y="15.8">STATISTICS C4</text></g>
<g id="f4-m21" transform="translate(1301,945)"><use href="#sA" width="35" height="22"/><text class="t" x="17.5" y="7.4">WRITE DAILY</text><text class="t" x="17.5" y="11.6">STATISTICS</text><text class="t" x="17.5" y="15.8">C4</text></g>
<g id="f4-m22" transform="translate(1344,945)"><use href="#sP" width="37" height="22"/><text class="t" x="18.5" y="7.4">RESET</text><text class="t" x="18.5" y="11.6">BUDGET LOGIC</text><text class="t" x="18.5" y="15.8">AND CALCULATE</text></g>
<g id="f4-m23" transform="translate(1388,945)"><use href="#sA" width="35" height="22"/><text class="t" x="17.5" y="7.4">FINAL REPORT</text><text class="t" x="17.5" y="11.6">HOLD BEFORE</text><text class="t" x="17.5" y="15.8">REPORT C4</text></g>
<g id="f4-m24" transform="translate(1433,945)"><use href="#sP" width="35" height="21"/><text class="t" x="17.5" y="9.8">RESET</text><text class="t" x="17.5" y="14">PROPERTIES C4</text></g>
<g id="f4-m25" transform="translate(680,985)"><use href="#sP" width="35" height="21"/><text class="t" x="17.5" y="9.8">CALCULATE</text><text class="t" x="17.5" y="14">CTR C4</text></g>
<g id="f4-m26" transform="translate(729,988)"><use href="#sP" width="36" height="20"/><text class="t" x="18" y="6.4">CALCULATE</text><text class="t" x="18" y="10.6">ACTUAL CPC</text><text class="t" x="18" y="14.8">C4</text></g>
<g id="f4-m27" transform="translate(786,994)"><use href="#sP" width="35" height="20"/><text class="t" x="17.5" y="6.4">CALCULATE</text><text class="t" x="17.5" y="10.6">AVERAGE</text><text class="t" x="17.5" y="14.8">POSITION C4</text></g>
<g id="f4-m28" transform="translate(863,997)"><use href="#sP" width="34" height="20"/><text class="t" x="17" y="6.4">CALCULATE</text><text class="t" x="17" y="10.6">TOTAL BUDGET</text><text class="t" x="17" y="14.8">SPENT C4</text></g>
<g id="f4-m29" transform="translate(911,997)"><use href="#sA" width="36" height="20"/><text class="t" x="18" y="6.4">RECORD</text><text class="t" x="18" y="10.6">TOTAL VOLUME</text><text class="t" x="18" y="14.8">SEARCHES C4</text></g>
<g id="f4-m30" transform="translate(952,990)"><use href="#sD" width="49" height="32"/><text class="t" x="24.5" y="15.3">DECIDE IF ADVERTISER</text><text class="t" x="24.5" y="19.5">CLICKED C4</text><text class="tf" x="50" y="14">True</text><text class="tf" x="26" y="35">False</text></g>
<g id="f4-m31" transform="translate(1009,997)"><use href="#sP" width="31" height="20"/><text class="t" x="15.5" y="6.4">CALCULATE</text><text class="t" x="15.5" y="10.6">DAILY CLICKS</text><text class="t" x="15.5" y="14.8">COST C4</text></g>
<g id="f4-m32" transform="translate(1009,1022)"><use href="#sP" width="31" height="20"/><text class="t" x="15.5" y="6.4">CALCULATE</text><text class="t" x="15.5" y="10.6">NOT CLICKED</text><text class="t" x="15.5" y="14.8">C4</text></g>
<g id="f4-m33" transform="translate(1051,997)"><use href="#sR" width="33" height="20"/><text class="t" x="18.5" y="6.4">RECORD</text><text class="t" x="18.5" y="10.6">TOTAL CLICKS</text><text class="t" x="18.5" y="14.8">30 DAY C4</text></g>
<g id="f4-m34" transform="translate(1089,997)"><use href="#sA" width="37" height="20"/><text class="t" x="18.5" y="6.4">RECORD</text><text class="t" x="18.5" y="10.6">TOTAL COST</text><text class="t" x="18.5" y="14.8">30 DAY C4</text></g>
<g id="f4-m35" transform="translate(1140,997)"><use href="#sR" width="36" height="20"/><text class="t" x="20" y="6.4">RECORD</text><text class="t" x="20" y="10.6">MONTHLY</text><text class="t" x="20" y="14.8">TOTAL C4</text></g>
<g id="f4-m36" transform="translate(1185,997)"><use href="#sR" width="38" height="20"/><text class="t" x="21" y="9.3">DISPOSE</text><text class="t" x="21" y="13.5">SEARCHERS C4</text></g>
<g id="f4-m37" transform="translate(1090,1021)"><use href="#sA" width="36" height="19"/><text class="t" x="18" y="5.9">RECORD</text><text class="t" x="18" y="10.1">TOTAL NOT</text><text class="t" x="18" y="14.3">CLICKED C4</text></g>

<!-- campaign one create modules -->
<g id="c1-d26" transform="translate(26,44)"><use href="#sC" width="52" height="25"/><text class="ct" x="22" y="8.2">CREATE</text><text class="ct" x="22" y="13.8">SEARCHERS</text><text class="ct" x="22" y="19.4">DAY 26 C1</text></g>
<g id="c1-d27" transform="translate(26,74)"><use href="#sC" width="52" height="25"/><text class="ct" x="22" y="8.2">CREATE</text><text class="ct" x="22" y="13.8">SEARCHERS</text><text class="ct" x="22" y="19.4">DAY 27 C1</text></g>
<g id="c1-d28" transform="translate(26,104)"><use href="#sC" width="52" height="25"/><text class="ct" x="22" y="8.2">CREATE</text><text class="ct" x="22" y="13.8">SEARCHERS</text><text class="ct" x="22" y="19.4">DAY 28 C1</text></g>
<g id="c1-d29" transform="translate(26,134)"><use href="#sC" width="52" height="25"/><text class="ct" x="22" y="8.2">CREATE</text><text class="ct" x="22" y="13.8">SEARCHERS</text><text class="ct" x="22" y="19.4">DAY 29 C1</text></g>
<g id="c1-d30" transform="translate(26,164)"><use href="#sC" width="52" height="25"/><text class="ct" x="22" y="8.2">CREATE</text><text class="ct" x="22" y="13.8">SEARCHERS</text><text class="ct" x="22" y="19.4">DAY 30 C1</text></g>
<g id="c1-d20" transform="translate(87,44)"><use href="#sC" width="52" height="25"/><text class="ct" x="22" y="8.2">CREATE</text><text class="ct" x="22" y="13.8">SEARCHERS</text><text class="ct" x="22" y="19.4">DAY 20 C1</text></g>
<g id="c1-d21" transform="translate(87,74)"><use href="#sC" width="52" height="25"/><text class="ct" x="22" y="8.2">CREATE</text><text class="ct" x="22" y="13.8">SEARCHERS</text><text class="ct" x="22" y="19.4">DAY 21 C1</text></g>
<g id="c1-d22" transform="translate(87,104)"><use href="#sC" width="52" height="25"/><text class="ct" x="22" y="8.2">CREATE</text><text class="ct" x="22" y="13.8">SEARCHERS</text><text class="ct" x="22" y="19.4">DAY 22 C1</text></g>
<g id="c1-d23" transform="translate(87,134)"><use href="#sC" width="52" height="25"/><text class="ct" x="22" y="8.2">CREATE</text><text class="ct" x="22" y="13.8">SEARCHERS</text><text class="ct" x="22" y="19.4">DAY 23 C1</text></g>
<g id="c1-d24" transform="translate(87,164)"><use href="#sC" width="52" height="25"/><text class="ct" x="22" y="8.2">CREATE</text><text class="ct" x="22" y="13.8">SEARCHERS</text><text class="ct" x="22" y="19.4">DAY 24 C1</text></g>
<g id="c1-d25" transform="translate(87,194)"><use href="#sC" width="52" height="25"/><text class="ct" x="22" y="8.2">CREATE</text><text class="ct" x="22" y="13.8">SEARCHERS</text><text class="ct" x="22" y="19.4">DAY 25 C1</text></g>
<g id="c1-d14" transform="translate(151,44)"><use href="#sC" width="52" height="25"/><text class="ct" x="22" y="8.2">CREATE</text><text class="ct" x="22" y="13.8">SEARCHERS</text><text class="ct" x="22" y="19.4">DAY 14 C1</text></g>
<g id="c1-d15" transform="translate(151,74)"><use href="#sC" width="52" height="25"/><text class="ct" x="22" y="8.2">CREATE</text><text class="ct" x="22" y="13.8">SEARCHERS</text><text class="ct" x="22" y="19.4">DAY 15 C1</text></g>
<g id="c1-d16" transform="translate(151,104)"><use href="#sC" width="52" height="25"/><text class="ct" x="22" y="8.2">CREATE</text><text class="ct" x="22" y="13.8">SEARCHERS</text><text class="ct" x="22" y="19.4">DAY 16 C1</text></g>
<g id="c1-d17" transform="translate(151,134)"><use href="#sC" width="52" height="25"/><text class="ct" x="22" y="8.2">CREATE</text><text class="ct" x="22" y="13.8">SEARCHERS</text><text class="ct" x="22" y="19.4">DAY 17 C1</text></g>
<g id="c1-d18" transform="translate(151,164)"><use href="#sC" width="52" height="25"/><text class="ct" x="22" y="8.2">CREATE</text><text class="ct" x="22" y="13.8">SEARCHERS</text><text class="ct" x="22" y="19.4">DAY 18 C1</text></g>
<g id="c1-d19" transform="translate(151,194)"><use href="#sC" width="52" height="25"/><text class="ct" x="22" y="8.2">CREATE</text><text class="ct" x="22" y="13.8">SEARCHERS</text><text class="ct" x="22" y="19.4">DAY 19 C1</text></g>
<g id="c1-d8" transform="translate(219,44)"><use href="#sC" width="52" height="25"/><text class="ct" x="22" y="8.2">CREATE</text><text class="ct" x="22" y="13.8">SEARCHERS</text><text class="ct" x="22" y="19.4">DAY 8 C1</text></g>
<g id="c1-d9" transform="translate(219,74)"><use href="#sC" width="52" height="25"/><text class="ct" x="22" y="8.2">CREATE</text><text class="ct" x="22" y="13.8">SEARCHERS</text><text class="ct" x="22" y="19.4">DAY 9 C1</text></g>
<g id="c1-d10" transform="translate(219,104)"><use href="#sC" width="52" height="25"/><text class="ct" x="22" y="8.2">CREATE</text><text class="ct" x="22" y="13.8">SEARCHERS</text><text class="ct" x="22" y="19.4">DAY 10 C1</text></g>
<g id="c1-d11" transform="translate(219,134)"><use href="#sC" width="52" height="25"/><text class="ct" x="22" y="8.2">CREATE</text><text class="ct" x="22" y="13.8">SEARCHERS</text><text class="ct" x="22" y="19.4">DAY 11 C1</text></g>
<g id="c1-d12" transform="translate(219,164)"><use href="#sC" width="52" height="25"/><text class="ct" x="22" y="8.2">CREATE</text><text class="ct" x="22" y="13.8">SEARCHERS</text><text class="ct" x="22" y="19.4">DAY 12 C1</text></g>
<g id="c1-d13" transform="translate(219,194)"><use href="#sC" width="52" height="25"/><text class="ct" x="22" y="8.2">CREATE</text><text class="ct" x="22" y="13.8">SEARCHERS</text><text class="ct" x="22" y="19.4">DAY 13 C1</text></g>
<g id="c1-d2" transform="translate(283,44)"><use href="#sC" width="52" height="25"/><text class="ct" x="22" y="8.2">CREATE</text><text class="ct" x="22" y="13.8">SEARCHERS</text><text class="ct" x="22" y="19.4">DAY 2 C1</text></g>
<g id="c1-d3" transform="translate(283,74)"><use href="#sC" width="52" height="25"/><text class="ct" x="22" y="8.2">CREATE</text><text class="ct" x="22" y="13.8">SEARCHERS</text><text class="ct" x="22" y="19.4">DAY 3 C1</text></g>
<g id="c1-d4" transform="translate(283,104)"><use href="#sC" width="52" height="25"/><text class="ct" x="22" y="8.2">CREATE</text><text class="ct" x="22" y="13.8">SEARCHERS</text><text class="ct" x="22" y="19.4">DAY 4 C1</text></g>
<g id="c1-d5" transform="translate(283,134)"><use href="#sC" width="52" height="25"/><text class="ct" x="22" y="8.2">CREATE</text><text class="ct" x="22" y="13.8">SEARCHERS</text><text class="ct" x="22" y="19.4">DAY 5 C1</text></g>
<g id="c1-d6" transform="translate(283,164)"><use href="#sC" width="52" height="25"/><text class="ct" x="22" y="8.2">CREATE</text><text class="ct" x="22" y="13.8">SEARCHERS</text><text class="ct" x="22" y="19.4">DAY 6 C1</text></g>
<g id="c1-d7" transform="translate(283,194)"><use href="#sC" width="52" height="25"/><text class="ct" x="22" y="8.2">CREATE</text><text class="ct" x="22" y="13.8">SEARCHERS</text><text class="ct" x="22" y="19.4">DAY 7 C1</text></g>

<!-- campaign two create modules -->
<g id="c2-d26" transform="translate(52,317)"><use href="#sC" width="55" height="27"/><text class="ct" x="23" y="9">CREATE</text><text class="ct" x="23" y="15">SEARCHERS</text><text class="ct" x="23" y="21">DAY 26 C2</text></g>
<g id="c2-d27" transform="translate(52,349)"><use href="#sC" width="55" height="27"/><text class="ct" x="23" y="9">CREATE</text><text class="ct" x="23" y="15">SEARCHERS</text><text class="ct" x="23" y="21">DAY 27 C2</text></g>
<g id="c2-d28" transform="translate(52,382)"><use href="#sC" width="55" height="27"/><text class="ct" x="23" y="9">CREATE</text><text class="ct" x="23" y="15">SEARCHERS</text><text class="ct" x="23" y="21">DAY 28 C2</text></g>
<g id="c2-d29" transform="translate(52,415)"><use href="#sC" width="55" height="27"/><text class="ct" x="23" y="9">CREATE</text><text class="ct" x="23" y="15">SEARCHERS</text><text class="ct" x="23" y="21">DAY 29 C2</text></g>
<g id="c2-d30" transform="translate(52,447)"><use href="#sC" width="55" height="27"/><text class="ct" x="23" y="9">CREATE</text><text class="ct" x="23" y="15">SEARCHERS</text><text class="ct" x="23" y="21">DAY 30 C2</text></g>
<g id="c2-d20" transform="translate(114,317)"><use href="#sC" width="55" height="27"/><text class="ct" x="23" y="9">CREATE</text><text class="ct" x="23" y="15">SEARCHERS</text><text class="ct" x="23" y="21">DAY 20 C2</text></g>
<g id="c2-d21" transform="translate(114,349)"><use href="#sC" width="55" height="27"/><text class="ct" x="23" y="9">CREATE</text><text class="ct" x="23" y="15">SEARCHERS</text><text class="ct" x="23" y="21">DAY 21 C2</text></g>
<g id="c2-d22" transform="translate(114,382)"><use href="#sC" width="55" height="27"/><text class="ct" x="23" y="9">CREATE</text><text class="ct" x="23" y="15">SEARCHERS</text><text class="ct" x="23" y="21">DAY 22 C2</text></g>
<g id="c2-d23" transform="translate(114,415)"><use href="#sC" width="55" height="27"/><text class="ct" x="23" y="9">CREATE</text><text class="ct" x="23" y="15">SEARCHERS</text><text class="ct" x="23" y="21">DAY 23 C2</text></g>
<g id="c2-d24" transform="translate(114,447)"><use href="#sC" width="55" height="27"/><text class="ct" x="23" y="9">CREATE</text><text class="ct" x="23" y="15">SEARCHERS</text><text class="ct" x="23" y="21">DAY 24 C2</text></g>
<g id="c2-d25" transform="translate(114,478)"><use href="#sC" width="55" height="27"/><text class="ct" x="23" y="9">CREATE</text><text class="ct" x="23" y="15">SEARCHERS</text><text class="ct" x="23" y="21">DAY 25 C2</text></g>
<g id="c2-d14" transform="translate(180,317)"><use href="#sC" width="55" height="27"/><text class="ct" x="23" y="9">CREATE</text><text class="ct" x="23" y="15">SEARCHERS</text><text class="ct" x="23" y="21">DAY 14 C2</text></g>
<g id="c2-d15" transform="translate(180,349)"><use href="#sC" width="55" height="27"/><text class="ct" x="23" y="9">CREATE</text><text class="ct" x="23" y="15">SEARCHERS</text><text class="ct" x="23" y="21">DAY 15 C2</text></g>
<g id="c2-d16" transform="translate(180,382)"><use href="#sC" width="55" height="27"/><text class="ct" x="23" y="9">CREATE</text><text class="ct" x="23" y="15">SEARCHERS</text><text class="ct" x="23" y="21">DAY 16 C2</text></g>
<g id="c2-d17" transform="translate(180,415)"><use href="#sC" width="55" height="27"/><text class="ct" x="23" y="9">CREATE</text><text class="ct" x="23" y="15">SEARCHERS</text><text class="ct" x="23" y="21">DAY 17 C2</text></g>
<g id="c2-d18" transform="translate(180,447)"><use href="#sC" width="55" height="27"/><text class="ct" x="23" y="9">CREATE</text><text class="ct" x="23" y="15">SEARCHERS</text><text class="ct" x="23" y="21">DAY 18 C2</text></g>
<g id="c2-d19" transform="translate(180,478)"><use href="#sC" width="55" height="27"/><text class="ct" x="23" y="9">CREATE</text><text class="ct" x="23" y="15">SEARCHERS</text><text class="ct" x="23" y="21">DAY 19 C2</text></g>
<g id="c2-d8" transform="translate(252,317)"><use href="#sC" width="55" height="27"/><text class="ct" x="23" y="9">CREATE</text><text class="ct" x="23" y="15">SEARCHERS</text><text class="ct" x="23" y="21">DAY 8 C2</text></g>
<g id="c2-d9" transform="translate(252,349)"><use href="#sC" width="55" height="27"/><text class="ct" x="23" y="9">CREATE</text><text class="ct" x="23" y="15">SEARCHERS</text><text class="ct" x="23" y="21">DAY 9 C2</text></g>
<g id="c2-d10" transform="translate(252,382)"><use href="#sC" width="55" height="27"/><text class="ct" x="23" y="9">CREATE</text><text class="ct" x="23" y="15">SEARCHERS</text><text class="ct" x="23" y="21">DAY 10 C2</text></g>
<g id="c2-d11" transform="translate(252,415)"><use href="#sC" width="55" height="27"/><text class="ct" x="23" y="9">CREATE</text><text class="ct" x="23" y="15">SEARCHERS</text><text class="ct" x="23" y="21">DAY 11 C2</text></g>
<g id="c2-d12" transform="translate(252,447)"><use href="#sC" width="55" height="27"/><text class="ct" x="23" y="9">CREATE</text><text class="ct" x="23" y="15">SEARCHERS</text><text class="ct" x="23" y="21">DAY 12 C2</text></g>
<g id="c2-d13" transform="translate(252,478)"><use href="#sC" width="55" height="27"/><text class="ct" x="23" y="9">CREATE</text><text class="ct" x="23" y="15">SEARCHERS</text><text class="ct" x="23" y="21">DAY 13 C2</text></g>
<g id="c2-d2" transform="translate(313,317)"><use href="#sC" width="55" height="27"/><text class="ct" x="23" y="9">CREATE</text><text class="ct" x="23" y="15">SEARCHERS</text><text class="ct" x="23" y="21">DAY 2 C2</text></g>
<g id="c2-d3" transform="translate(313,349)"><use href="#sC" width="55" height="27"/><text class="ct" x="23" y="9">CREATE</text><text class="ct" x="23" y="15">SEARCHERS</text><text class="ct" x="23" y="21">DAY 3 C2</text></g>
<g id="c2-d4" transform="translate(313,382)"><use href="#sC" width="55" height="27"/><text class="ct" x="23" y="9">CREATE</text><text class="ct" x="23" y="15">SEARCHERS</text><text class="ct" x="23" y="21">DAY 4 C2</text></g>
<g id="c2-d5" transform="translate(313,415)"><use href="#sC" width="55" height="27"/><text class="ct" x="23" y="9">CREATE</text><text class="ct" x="23" y="15">SEARCHERS</text><text class="ct" x="23" y="21">DAY 5 C2</text></g>
<g id="c2-d6" transform="translate(313,447)"><use href="#sC" width="55" height="27"/><text class="ct" x="23" y="9">CREATE</text><text class="ct" x="23" y="15">SEARCHERS</text><text class="ct" x="23" y="21">DAY 6 C2</text></g>
<g id="c2-d7" transform="translate(313,478)"><use href="#sC" width="55" height="27"/><text class="ct" x="23" y="9">CREATE</text><text class="ct" x="23" y="15">SEARCHERS</text><text class="ct" x="23" y="21">DAY 7 C2</text></g>

<!-- campaign three create modules -->
<g id="c3-d26" transform="translate(32,594)"><use href="#sC" width="57" height="27"/><text class="ct" x="24" y="9">CREATE</text><text class="ct" x="24" y="15">SEARCHERS</text><text class="ct" x="24" y="21">DAY 26 C3</text></g>
<g id="c3-d27" transform="translate(32,626)"><use href="#sC" width="57" height="27"/><text class="ct" x="24" y="9">CREATE</text><text class="ct" x="24" y="15">SEARCHERS</text><text class="ct" x="24" y="21">DAY 27 C3</text></g>
<g id="c3-d28" transform="translate(32,658)"><use href="#sC" width="57" height="27"/><text class="ct" x="24" y="9">CREATE</text><text class="ct" x="24" y="15">SEARCHERS</text><text class="ct" x="24" y="21">DAY 28 C3</text></g>
<g id="c3-d29" transform="translate(32,692)"><use href="#sC" width="57" height="27"/><text class="ct" x="24" y="9">CREATE</text><text class="ct" x="24" y="15">SEARCHERS</text><text class="ct" x="24" y="21">DAY 29 C3</text></g>
<g id="c3-d30" transform="translate(32,724)"><use href="#sC" width="57" height="27"/><text class="ct" x="24" y="9">CREATE</text><text class="ct" x="24" y="15">SEARCHERS</text><text class="ct" x="24" y="21">DAY 30 C3</text></g>
<g id="c3-d20" transform="translate(98,594)"><use href="#sC" width="57" height="27"/><text class="ct" x="24" y="9">CREATE</text><text class="ct" x="24" y="15">SEARCHERS</text><text class="ct" x="24" y="21">DAY 20 C3</text></g>
<g id="c3-d21" transform="translate(98,626)"><use href="#sC" width="57" height="27"/><text class="ct" x="24" y="9">CREATE</text><text class="ct" x="24" y="15">SEARCHERS</text><text class="ct" x="24" y="21">DAY 21 C3</text></g>
<g id="c3-d22" transform="translate(98,658)"><use href="#sC" width="57" height="27"/><text class="ct" x="24" y="9">CREATE</text><text class="ct" x="24" y="15">SEARCHERS</text><text class="ct" x="24" y="21">DAY 22 C3</text></g>
<g id="c3-d23" transform="translate(98,692)"><use href="#sC" width="57" height="27"/><text class="ct" x="24" y="9">CREATE</text><text class="ct" x="24" y="15">SEARCHERS</text><text class="ct" x="24" y="21">DAY 23 C3</text></g>
<g id="c3-d24" transform="translate(98,724)"><use href="#sC" width="57" height="27"/><text class="ct" x="24" y="9">CREATE</text><text class="ct" x="24" y="15">SEARCHERS</text><text class="ct" x="24" y="21">DAY 24 C3</text></g>
<g id="c3-d25" transform="translate(98,757)"><use href="#sC" width="57" height="27"/><text class="ct" x="24" y="9">CREATE</text><text class="ct" x="24" y="15">SEARCHERS</text><text class="ct" x="24" y="21">DAY 25 C3</text></g>
<g id="c3-d14" transform="translate(170,594)"><use href="#sC" width="57" height="27"/><text class="ct" x="24" y="9">CREATE</text><text class="ct" x="24" y="15">SEARCHERS</text><text class="ct" x="24" y="21">DAY 14 C3</text></g>
<g id="c3-d15" transform="translate(170,626)"><use href="#sC" width="57" height="27"/><text class="ct" x="24" y="9">CREATE</text><text class="ct" x="24" y="15">SEARCHERS</text><text class="ct" x="24" y="21">DAY 15 C3</text></g>
<g id="c3-d16" transform="translate(170,658)"><use href="#sC" width="57" height="27"/><text class="ct" x="24" y="9">CREATE</text><text class="ct" x="24" y="15">SEARCHERS</text><text class="ct" x="24" y="21">DAY 16 C3</text></g>
<g id="c3-d17" transform="translate(170,692)"><use href="#sC" width="57" height="27"/><text class="ct" x="24" y="9">CREATE</text><text class="ct" x="24" y="15">SEARCHERS</text><text class="ct" x="24" y="21">DAY 17 C3</text></g>
<g id="c3-d18" transform="translate(170,724)"><use href="#sC" width="57" height="27"/><text class="ct" x="24" y="9">CREATE</text><text class="ct" x="24" y="15">SEARCHERS</text><text class="ct" x="24" y="21">DAY 18 C3</text></g>
<g id="c3-d19" transform="translate(170,757)"><use href="#sC" width="57" height="27"/><text class="ct" x="24" y="9">CREATE</text><text class="ct" x="24" y="15">SEARCHERS</text><text class="ct" x="24" y="21">DAY 19 C3</text></g>
<g id="c3-d8" transform="translate(247,594)"><use href="#sC" width="57" height="27"/><text class="ct" x="24" y="9">CREATE</text><text class="ct" x="24" y="15">SEARCHERS</text><text class="ct" x="24" y="21">DAY 8 C3</text></g>
<g id="c3-d9" transform="translate(247,626)"><use href="#sC" width="57" height="27"/><text class="ct" x="24" y="9">CREATE</text><text class="ct" x="24" y="15">SEARCHERS</text><text class="ct" x="24" y="21">DAY 9 C3</text></g>
<g id="c3-d10" transform="translate(247,658)"><use href="#sC" width="57" height="27"/><text class="ct" x="24" y="9">CREATE</text><text class="ct" x="24" y="15">SEARCHERS</text><text class="ct" x="24" y="21">DAY 10 C3</text></g>
<g id="c3-d11" transform="translate(247,692)"><use href="#sC" width="57" height="27"/><text class="ct" x="24" y="9">CREATE</text><text class="ct" x="24" y="15">SEARCHERS</text><text class="ct" x="24" y="21">DAY 11 C3</text></g>
<g id="c3-d12" transform="translate(247,724)"><use href="#sC" width="57" height="27"/><text class="ct" x="24" y="9">CREATE</text><text class="ct" x="24" y="15">SEARCHERS</text><text class="ct" x="24" y="21">DAY 12 C3</text></g>
<g id="c3-d13" transform="translate(247,757)"><use href="#sC" width="57" height="27"/><text class="ct" x="24" y="9">CREATE</text><text class="ct" x="24" y="15">SEARCHERS</text><text class="ct" x="24" y="21">DAY 13 C3</text></g>
<g id="c3-d2" transform="translate(319,594)"><use href="#sC" width="57" height="27"/><text class="ct" x="24" y="9">CREATE</text><text class="ct" x="24" y="15">SEARCHERS</text><text class="ct" x="24" y="21">DAY 2 C3</text></g>
<g id="c3-d3" transform="translate(319,626)"><use href="#sC" width="57" height="27"/><text class="ct" x="24" y="9">CREATE</text><text class="ct" x="24" y="15">SEARCHERS</text><text class="ct" x="24" y="21">DAY 3 C3</text></g>
<g id="c3-d4" transform="translate(319,658)"><use href="#sC" width="57" height="27"/><text class="ct" x="24" y="9">CREATE</text><text class="ct" x="24" y="15">SEARCHERS</text><text class="ct" x="24" y="21">DAY 4 C3</text></g>
<g id="c3-d5" transform="translate(319,692)"><use href="#sC" width="57" height="27"/><text class="ct" x="24" y="9">CREATE</text><text class="ct" x="24" y="15">SEARCHERS</text><text class="ct" x="24" y="21">DAY 5 C3</text></g>
<g id="c3-d6" transform="translate(319,724)"><use href="#sC" width="57" height="27"/><text class="ct" x="24" y="9">CREATE</text><text class="ct" x="24" y="15">SEARCHERS</text><text class="ct" x="24" y="21">DAY 6 C3</text></g>
<g id="c3-d7" transform="translate(319,757)"><use href="#sC" width="57" height="27"/><text class="ct" x="24" y="9">CREATE</text><text class="ct" x="24" y="15">SEARCHERS</text><text class="ct" x="24" y="21">DAY 7 C3</text></g>

<!-- campaign four create modules -->
<g id="c4-d26" transform="translate(52,868)"><use href="#sC" width="57" height="31"/><text class="ct" x="24" y="10.5">CREATE</text><text class="ct" x="24" y="17">SEARCHERS</text><text class="ct" x="24" y="23.5">DAY 26 C4</text></g>
<g id="c4-d27" transform="translate(52,905)"><use href="#sC" width="57" height="31"/><text class="ct" x="24" y="10.5">CREATE</text><text class="ct" x="24" y="17">SEARCHERS</text><text class="ct" x="24" y="23.5">DAY 27 C4</text></g>
<g id="c4-d28" transform="translate(52,942)"><use href="#sC" width="57" height="31"/><text class="ct" x="24" y="10.5">CREATE</text><text class="ct" x="24" y="17">SEARCHERS</text><text class="ct" x="24" y="23.5">DAY 28 C4</text></g>
<g id="c4-d29" transform="translate(52,980)"><use href="#sC" width="57" height="31"/><text class="ct" x="24" y="10.5">CREATE</text><text class="ct" x="24" y="17">SEARCHERS</text><text class="ct" x="24" y="23.5">DAY 29 C4</text></g>
<g id="c4-d30" transform="translate(52,1018)"><use href="#sC" width="57" height="31"/><text class="ct" x="24" y="10.5">CREATE</text><text class="ct" x="24" y="17">SEARCHERS</text><text class="ct" x="24" y="23.5">DAY 30 C4</text></g>
<g id="c4-d20" transform="translate(118,868)"><use href="#sC" width="57" height="31"/><text class="ct" x="24" y="10.5">CREATE</text><text class="ct" x="24" y="17">SEARCHERS</text><text class="ct" x="24" y="23.5">DAY 20 C4</text></g>
<g id="c4-d21" transform="translate(118,905)"><use href="#sC" width="57" height="31"/><text class="ct" x="24" y="10.5">CREATE</text><text class="ct" x="24" y="17">SEARCHERS</text><text class="ct" x="24" y="23.5">DAY 21 C4</text></g>
<g id="c4-d22" transform="translate(118,942)"><use href="#sC" width="57" height="31"/><text class="ct" x="24" y="10.5">CREATE</text><text class="ct" x="24" y="17">SEARCHERS</text><text class="ct" x="24" y="23.5">DAY 22 C4</text></g>
<g id="c4-d23" transform="translate(118,980)"><use href="#sC" width="57" height="31"/><text class="ct" x="24" y="10.5">CREATE</text><text class="ct" x="24" y="17">SEARCHERS</text><text class="ct" x="24" y="23.5">DAY 23 C4</text></g>
<g id="c4-d24" transform="translate(118,1018)"><use href="#sC" width="57" height="31"/><text class="ct" x="24" y="10.5">CREATE</text><text class="ct" x="24" y="17">SEARCHERS</text><text class="ct" x="24" y="23.5">DAY 24 C4</text></g>
<g id="c4-d25" transform="translate(118,1055)"><use href="#sC" width="57" height="31"/><text class="ct" x="24" y="10.5">CREATE</text><text class="ct" x="24" y="17">SEARCHERS</text><text class="ct" x="24" y="23.5">DAY 25 C4</text></g>
<g id="c4-d14" transform="translate(188,868)"><use href="#sC" width="57" height="31"/><text class="ct" x="24" y="10.5">CREATE</text><text class="ct" x="24" y="17">SEARCHERS</text><text class="ct" x="24" y="23.5">DAY 14 C4</text></g>
<g id="c4-d15" transform="translate(188,905)"><use href="#sC" width="57" height="31"/><text class="ct" x="24" y="10.5">CREATE</text><text class="ct" x="24" y="17">SEARCHERS</text><text class="ct" x="24" y="23.5">DAY 15 C4</text></g>
<g id="c4-d16" transform="translate(188,942)"><use href="#sC" width="57" height="31"/><text class="ct" x="24" y="10.5">CREATE</text><text class="ct" x="24" y="17">SEARCHERS</text><text class="ct" x="24" y="23.5">DAY 16 C4</text></g>
<g id="c4-d17" transform="translate(188,980)"><use href="#sC" width="57" height="31"/><text class="ct" x="24" y="10.5">CREATE</text><text class="ct" x="24" y="17">SEARCHERS</text><text class="ct" x="24" y="23.5">DAY 17 C4</text></g>
<g id="c4-d18" transform="translate(188,1018)"><use href="#sC" width="57" height="31"/><text class="ct" x="24" y="10.5">CREATE</text><text class="ct" x="24" y="17">SEARCHERS</text><text class="ct" x="24" y="23.5">DAY 18 C4</text></g>
<g id="c4-d19" transform="translate(188,1055)"><use href="#sC" width="57" height="31"/><text class="ct" x="24" y="10.5">CREATE</text><text class="ct" x="24" y="17">SEARCHERS</text><text class="ct" x="24" y="23.5">DAY 19 C4</text></g>
<g id="c4-d8" transform="translate(262,868)"><use href="#sC" width="57" height="31"/><text class="ct" x="24" y="10.5">CREATE</text><text class="ct" x="24" y="17">SEARCHERS</text><text class="ct" x="24" y="23.5">DAY 8 C4</text></g>
<g id="c4-d9" transform="translate(262,905)"><use href="#sC" width="57" height="31"/><text class="ct" x="24" y="10.5">CREATE</text><text class="ct" x="24" y="17">SEARCHERS</text><text class="ct" x="24" y="23.5">DAY 9 C4</text></g>
<g id="c4-d10" transform="translate(262,942)"><use href="#sC" width="57" height="31"/><text class="ct" x="24" y="10.5">CREATE</text><text class="ct" x="24" y="17">SEARCHERS</text><text class="ct" x="24" y="23.5">DAY 10 C4</text></g>
<g id="c4-d11" transform="translate(262,980)"><use href="#sC" width="57" height="31"/><text class="ct" x="24" y="10.5">CREATE</text><text class="ct" x="24" y="17">SEARCHERS</text><text class="ct" x="24" y="23.5">DAY 11 C4</text></g>
<g id="c4-d12" transform="translate(262,1018)"><use href="#sC" width="57" height="31"/><text class="ct" x="24" y="10.5">CREATE</text><text class="ct" x="24" y="17">SEARCHERS</text><text class="ct" x="24" y="23.5">DAY 12 C4</text></g>
<g id="c4-d13" transform="translate(262,1055)"><use href="#sC" width="57" height="31"/><text class="ct" x="24" y="10.5">CREATE</text><text class="ct" x="24" y="17">SEARCHERS</text><text class="ct" x="24" y="23.5">DAY 13 C4</text></g>
<g id="c4-d2" transform="translate(332,868)"><use href="#sC" width="57" height="31"/><text class="ct" x="24" y="10.5">CREATE</text><text class="ct" x="24" y="17">SEARCHERS</text><text class="ct" x="24" y="23.5">DAY 2 C4</text></g>
<g id="c4-d3" transform="translate(332,905)"><use href="#sC" width="57" height="31"/><text class="ct" x="24" y="10.5">CREATE</text><text class="ct" x="24" y="17">SEARCHERS</text><text class="ct" x="24" y="23.5">DAY 3 C4</text></g>
<g id="c4-d4" transform="translate(332,942)"><use href="#sC" width="57" height="31"/><text class="ct" x="24" y="10.5">CREATE</text><text class="ct" x="24" y="17">SEARCHERS</text><text class="ct" x="24" y="23.5">DAY 4 C4</text></g>
<g id="c4-d5" transform="translate(332,980)"><use href="#sC" width="57" height="31"/><text class="ct" x="24" y="10.5">CREATE</text><text class="ct" x="24" y="17">SEARCHERS</text><text class="ct" x="24" y="23.5">DAY 5 C4</text></g>
<g id="c4-d6" transform="translate(332,1018)"><use href="#sC" width="57" height="31"/><text class="ct" x="24" y="10.5">CREATE</text><text class="ct" x="24" y="17">SEARCHERS</text><text class="ct" x="24" y="23.5">DAY 6 C4</text></g>
<g id="c4-d7" transform="translate(332,1055)"><use href="#sC" width="57" height="31"/><text class="ct" x="24" y="10.5">CREATE</text><text class="ct" x="24" y="17">SEARCHERS</text><text class="ct" x="24" y="23.5">DAY 7 C4</text></g>

<!-- lines joining the create modules, drawn over them -->
<g id="grid-connectors" class="gl">
<path d="M80,57H486 M80,117H486 M358,57V177 M419,117V177"/>
<path d="M103,396H487 M103,427H487 M103,461H487 M168,493H487 M487,333V496 M461,396V461"/>
<path d="M90,607H515 M90,673H515 M369,607V733 M403,607V770"/>
<path d="M110,882H538 M110,957H538 M110,1033H398 M398,882V1033"/>
</g>

<!-- hover tooltips and selection handles -->
<g id="tooltip-c1">
<rect class="tip" x="157" y="111" width="98" height="25"/>
<text class="tt" x="159" y="116.5">Module: CREATE SEARCHERS DAY 16 C1</text>
<text class="tt" x="159" y="122">ID: 18</text>
<text class="tt" x="159" y="127.5">Type: Create</text>
<text class="tt" x="159" y="133">From template: BasicProcess</text>
</g>
<g id="selection-c2" class="hdl">
<rect x="177" y="475" width="2" height="2"/><rect x="205" y="475" width="2" height="2"/><rect x="234" y="475" width="2" height="2"/>
<rect x="177" y="507" width="2" height="2"/><rect x="205" y="507" width="2" height="2"/><rect x="234" y="507" width="2" height="2"/>
</g>
<g id="tooltip-c2">
<rect class="tip" x="268" y="498" width="105" height="26"/>
<text class="tt" x="270" y="503.5">Module: CREATE SEARCHERS DAY 19 C2</text>
<text class="tt" x="270" y="509.5">ID: 1064</text>
<text class="tt" x="270" y="515">Type: Create</text>
<text class="tt" x="270" y="521">From template: BasicProcess</text>
</g>

<!-- block arrows from create modules to the flowcharts -->
<g id="arrows">
<path class="arw" d="M497,127H540V118L583,134L540,150V141H497Z"/>
<path class="arw" d="M497,406H540V398L583,413L540,428V420H497Z"/>
<path class="arw" d="M503,683H546V675L590,690L546,705V697H503Z"/>
<path class="arw" d="M476,963H519V955L562,970L519,985V977H476Z"/>
</g>

<!-- headings -->
<g id="headings" class="hd">
<text x="705" y="24" font-size="18" textLength="144" lengthAdjust="spacingAndGlyphs">CAMPAIGN ONE</text>
<text x="1139" y="21" font-size="18" textLength="144" lengthAdjust="spacingAndGlyphs">CAMPAIGN ONE</text>
<text x="702" y="249" font-size="18" textLength="144" lengthAdjust="spacingAndGlyphs">CAMPAIGN ONE</text>
<text x="1142" y="246" font-size="18" textLength="144" lengthAdjust="spacingAndGlyphs">CAMPAIGN ONE</text>
<text x="31" y="249" font-size="26" textLength="476" lengthAdjust="spacingAndGlyphs">CAMPAIGN ONE CREATE MODULES</text>
<text x="724" y="292" font-size="18" textLength="161" lengthAdjust="spacingAndGlyphs">CAMPAIGN TWO</text>
<text x="1142" y="298" font-size="18" textLength="160" lengthAdjust="spacingAndGlyphs">CAMPAIGN TWO</text>
<text x="721" y="520" font-size="18" textLength="159" lengthAdjust="spacingAndGlyphs">CAMPAIGN TWO</text>
<text x="1157" y="517" font-size="18" textLength="159" lengthAdjust="spacingAndGlyphs">CAMPAIGN TWO</text>
<text x="34" y="549" font-size="26" textLength="502" lengthAdjust="spacingAndGlyphs">CAMPAIGN TWO CREATE MODULES</text>
<text x="730" y="587" font-size="18" textLength="176" lengthAdjust="spacingAndGlyphs" clip-path="url(#clipTop3)">CAMPAIGN THREE</text>
<text x="1146" y="591" font-size="18" textLength="178" lengthAdjust="spacingAndGlyphs">CAMPAIGN THREE</text>
<text x="726" y="809" font-size="18" textLength="178" lengthAdjust="spacingAndGlyphs">CAMPAIGN THREE</text>
<text x="1161" y="807" font-size="18" textLength="177" lengthAdjust="spacingAndGlyphs">CAMPAIGN THREE</text>
<text x="12" y="827" font-size="26" textLength="572" lengthAdjust="spacingAndGlyphs">CAMPAIGN THREE CREATE MODULES</text>
<text x="729" y="867" font-size="18" textLength="175" lengthAdjust="spacingAndGlyphs">CAMPAIGN FOUR</text>
<text x="1165" y="872" font-size="18" textLength="175" lengthAdjust="spacingAndGlyphs">CAMPAIGN FOUR</text>
<text x="726" y="1101" font-size="18" textLength="174" lengthAdjust="spacingAndGlyphs">CAMPAIGN FOUR</text>
<text x="1181" y="1097" font-size="18" textLength="175" lengthAdjust="spacingAndGlyphs">CAMPAIGN FOUR</text>
<text x="34" y="1134" font-size="26" textLength="541" lengthAdjust="spacingAndGlyphs">CAMPAIGN FOUR CREATE MODULES</text>
</g>
</svg>
